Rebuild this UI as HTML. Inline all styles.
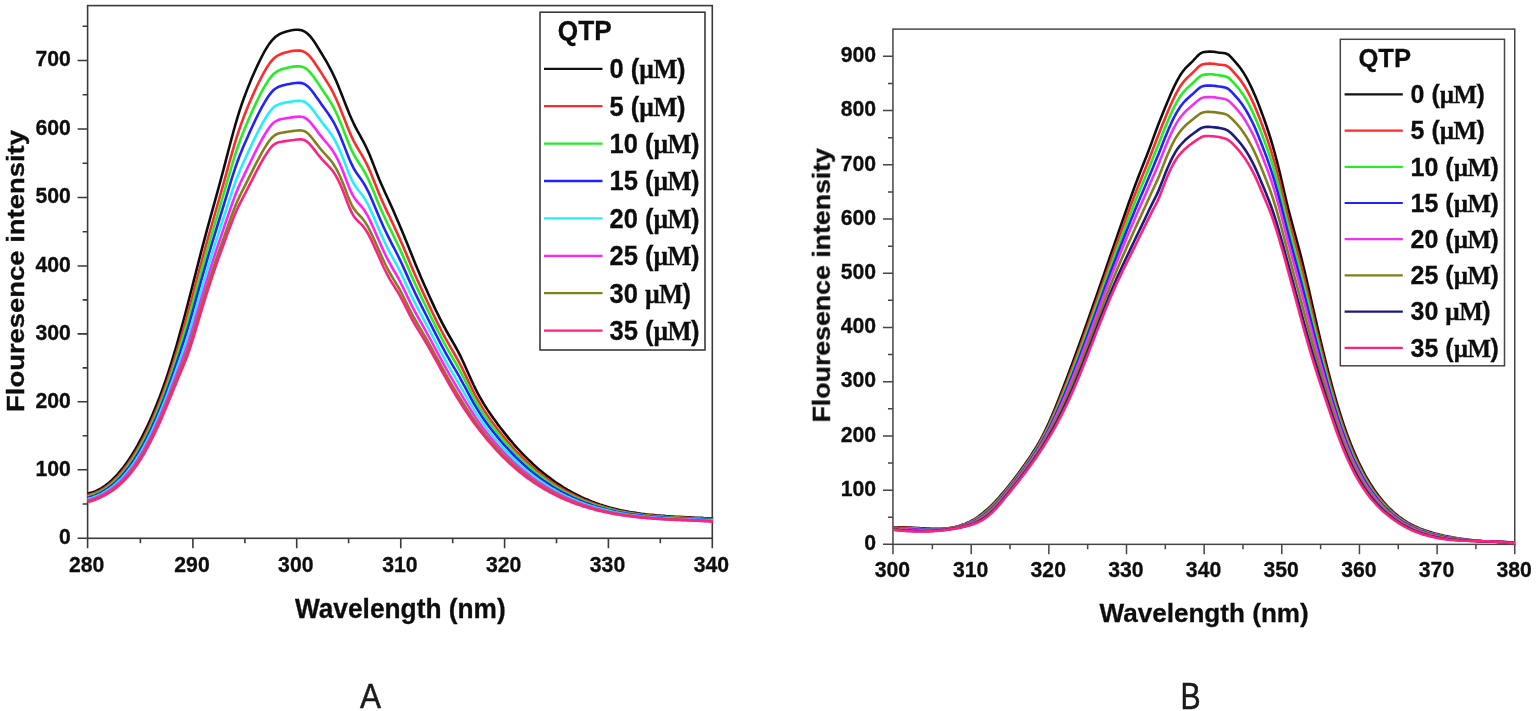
<!DOCTYPE html>
<html lang="en">
<head>
<meta charset="utf-8">
<title>Fluorescence spectra</title>
<style>
html,body{margin:0;padding:0;background:#ffffff;}
body{width:1537px;height:711px;overflow:hidden;}
svg{display:block;}
svg text{filter:url(#soft);}
svg .crv{filter:url(#softc);}
</style>
</head>
<body>
<svg width="1537" height="711" viewBox="0 0 1537 711">
<defs>
<filter id="soft" x="-5%" y="-20%" width="110%" height="140%"><feGaussianBlur stdDeviation="0.55"/></filter>
<filter id="softc" filterUnits="userSpaceOnUse" x="0" y="0" width="1537" height="711"><feGaussianBlur stdDeviation="0.5"/></filter>
</defs>
<rect width="1537" height="711" fill="#ffffff"/>
<g id="panel-A">
<rect x="87.6" y="5.6" width="624.70" height="532.70" fill="none" stroke="#3a3a3a" stroke-width="1.6"/>
<path d="M87.60 538.3v10M140.40 538.3v5M192.90 538.3v10M244.90 538.3v5M296.70 538.3v10M348.60 538.3v5M400.75 538.3v10M452.70 538.3v5M504.60 538.3v10M556.50 538.3v5M608.40 538.3v10M660.30 538.3v5M712.30 538.3v10M87.6 538.30h-10M87.6 504.05h-5M87.6 469.80h-10M87.6 435.80h-5M87.6 401.80h-10M87.6 367.85h-5M87.6 333.90h-10M87.6 299.92h-5M87.6 265.95h-10M87.6 231.72h-5M87.6 197.50h-10M87.6 163.25h-5M87.6 129.00h-10M87.6 94.75h-5M87.6 60.50h-10M87.6 26.25h-5" stroke="#3a3a3a" stroke-width="1.6" fill="none"/>
<clipPath id="clipA"><rect x="87.1" y="5.6" width="626.20" height="534.70"/></clipPath>
<g clip-path="url(#clipA)" fill="none" stroke-width="2.6" stroke-linejoin="round" class="crv">
<path d="M87.6 493.4L89.6 493.0L91.6 492.5L93.6 491.9L95.6 491.1L97.6 490.2L99.6 489.2L101.6 488.0L103.6 486.7L105.6 485.3L107.6 483.8L109.6 482.2L111.6 480.4L113.6 478.5L115.6 476.4L117.6 474.3L119.6 471.9L121.6 469.5L123.6 467.0L125.6 464.3L127.6 461.4L129.6 458.5L131.6 455.4L133.6 452.1L135.6 448.8L137.6 445.3L139.6 441.6L141.6 437.8L143.6 433.9L145.6 429.9L147.6 425.7L149.6 421.3L151.6 416.8L153.6 412.1L155.6 407.3L157.6 402.3L159.6 397.1L161.6 391.8L163.6 386.2L165.6 380.5L167.6 374.6L169.6 368.4L171.6 362.1L173.6 355.5L175.6 348.8L177.6 341.8L179.6 334.7L181.6 327.4L183.6 320.0L185.6 312.5L187.6 304.8L189.6 297.1L191.6 289.3L193.6 281.4L195.6 273.6L197.6 265.7L199.6 257.9L201.6 250.2L203.6 242.6L205.6 235.1L207.6 227.7L209.6 220.4L211.6 213.1L213.6 205.9L215.6 198.6L217.6 191.4L219.6 184.0L221.6 176.6L223.6 169.1L225.6 161.4L227.6 153.7L229.6 146.0L231.6 138.4L233.6 131.0L235.6 123.9L237.6 117.1L239.6 110.7L241.6 104.7L243.6 99.0L245.6 93.6L247.6 88.4L249.6 83.4L251.6 78.6L253.6 74.0L255.6 69.5L257.6 65.1L259.6 61.0L261.6 57.0L263.6 53.2L265.6 49.7L267.6 46.4L269.6 43.4L271.6 40.9L273.6 38.7L275.6 36.8L277.6 35.4L279.6 34.2L281.6 33.2L283.6 32.4L285.6 31.8L287.6 31.2L289.6 30.7L291.6 30.3L293.6 30.0L295.6 29.8L297.6 29.8L299.6 29.9L301.6 30.3L303.6 31.1L305.6 32.2L307.6 33.8L309.6 35.7L311.6 38.1L313.6 40.8L315.6 43.8L317.6 47.0L319.6 50.2L321.6 53.5L323.6 56.9L325.6 60.2L327.6 63.7L329.6 67.3L331.6 71.1L333.6 75.2L335.6 79.6L337.6 84.3L339.6 89.2L341.6 94.2L343.6 99.4L345.6 104.5L347.6 109.5L349.6 114.4L351.6 119.0L353.6 123.3L355.6 127.3L357.6 131.1L359.6 134.7L361.6 138.3L363.6 142.0L365.6 146.0L367.6 150.2L369.6 154.8L371.6 159.8L373.6 164.9L375.6 170.1L377.6 175.3L379.6 180.2L381.6 184.8L383.6 189.3L385.6 193.7L387.6 198.0L389.6 202.4L391.6 206.8L393.6 211.3L395.6 215.9L397.6 220.5L399.6 225.2L401.6 230.0L403.6 234.8L405.6 239.7L407.6 244.6L409.6 249.6L411.6 254.6L413.6 259.6L415.6 264.5L417.6 269.3L419.6 274.1L421.6 278.7L423.6 283.3L425.6 287.8L427.6 292.3L429.6 296.7L431.6 301.1L433.6 305.4L435.6 309.7L437.6 313.8L439.6 317.9L441.6 321.8L443.6 325.7L445.6 329.4L447.6 333.0L449.6 336.5L451.6 340.0L453.6 343.4L455.6 347.0L457.6 350.6L459.6 354.4L461.6 358.5L463.6 362.8L465.6 367.2L467.6 371.7L469.6 376.2L471.6 380.6L473.6 385.0L475.6 389.1L477.6 393.0L479.6 396.7L481.6 400.2L483.6 403.6L485.6 406.8L487.6 409.9L489.6 412.8L491.6 415.7L493.6 418.6L495.6 421.3L497.6 424.1L499.6 426.7L501.6 429.3L503.6 431.9L505.6 434.4L507.6 436.9L509.6 439.3L511.6 441.7L513.6 444.0L515.6 446.3L517.6 448.5L519.6 450.7L521.6 452.8L523.6 454.9L525.6 456.9L527.6 458.9L529.6 460.8L531.6 462.7L533.6 464.6L535.6 466.4L537.6 468.2L539.6 469.9L541.6 471.6L543.6 473.2L545.6 474.8L547.6 476.4L549.6 477.9L551.6 479.4L553.6 480.8L555.6 482.2L557.6 483.6L559.6 484.9L561.6 486.2L563.6 487.5L565.6 488.7L567.6 489.9L569.6 491.0L571.6 492.1L573.6 493.2L575.6 494.2L577.6 495.3L579.6 496.2L581.6 497.2L583.6 498.1L585.6 499.0L587.6 499.8L589.6 500.7L591.6 501.5L593.6 502.2L595.6 503.0L597.6 503.7L599.6 504.4L601.6 505.0L603.6 505.7L605.6 506.3L607.6 506.9L609.6 507.5L611.6 508.0L613.6 508.5L615.6 509.0L617.6 509.5L619.6 510.0L621.6 510.4L623.6 510.8L625.6 511.2L627.6 511.6L629.6 512.0L631.6 512.3L633.6 512.6L635.6 512.9L637.6 513.2L639.6 513.5L641.6 513.8L643.6 514.0L645.6 514.3L647.6 514.5L649.6 514.7L651.6 514.9L653.6 515.1L655.6 515.3L657.6 515.5L659.6 515.6L661.6 515.8L663.6 515.9L665.6 516.1L667.6 516.2L669.6 516.3L671.6 516.5L673.6 516.6L675.6 516.7L677.6 516.8L679.6 516.9L681.6 517.0L683.6 517.1L685.6 517.2L687.6 517.3L689.6 517.4L691.6 517.5L693.6 517.6L695.6 517.7L697.6 517.7L699.6 517.8L701.6 517.9L703.6 518.1L705.6 518.2L707.6 518.3L709.6 518.4L711.6 518.5L713.6 518.5" stroke="#111111"/>
<path d="M87.6 495.0L89.6 494.6L91.6 494.1L93.6 493.4L95.6 492.7L97.6 491.8L99.6 490.8L101.6 489.7L103.6 488.5L105.6 487.1L107.6 485.7L109.6 484.1L111.6 482.4L113.6 480.6L115.6 478.6L117.6 476.6L119.6 474.4L121.6 472.1L123.6 469.6L125.6 467.0L127.6 464.3L129.6 461.5L131.6 458.5L133.6 455.4L135.6 452.2L137.6 448.8L139.6 445.3L141.6 441.6L143.6 437.8L145.6 433.8L147.6 429.7L149.6 425.5L151.6 421.1L153.6 416.6L155.6 411.8L157.6 407.0L159.6 401.9L161.6 396.7L163.6 391.4L165.6 385.8L167.6 380.1L169.6 374.2L171.6 368.2L173.6 361.9L175.6 355.5L177.6 348.9L179.6 342.3L181.6 335.5L183.6 328.5L185.6 321.5L187.6 314.3L189.6 307.0L191.6 299.5L193.6 291.9L195.6 284.2L197.6 276.6L199.6 269.0L201.6 261.5L203.6 254.1L205.6 246.8L207.6 239.6L209.6 232.5L211.6 225.5L213.6 218.5L215.6 211.5L217.6 204.5L219.6 197.5L221.6 190.4L223.6 183.3L225.6 176.1L227.6 168.8L229.6 161.5L231.6 154.3L233.6 147.3L235.6 140.7L237.6 134.4L239.6 128.4L241.6 122.7L243.6 117.4L245.6 112.3L247.6 107.3L249.6 102.6L251.6 97.9L253.6 93.4L255.6 89.0L257.6 84.8L259.6 80.7L261.6 76.8L263.6 73.1L265.6 69.6L267.6 66.4L269.6 63.4L271.6 60.9L273.6 58.7L275.6 57.0L277.6 55.6L279.6 54.6L281.6 53.7L283.6 53.0L285.6 52.4L287.6 51.9L289.6 51.5L291.6 51.1L293.6 50.8L295.6 50.6L297.6 50.5L299.6 50.6L301.6 50.9L303.6 51.6L305.6 52.7L307.6 54.2L309.6 56.2L311.6 58.6L313.6 61.3L315.6 64.2L317.6 67.2L319.6 70.3L321.6 73.4L323.6 76.6L325.6 79.7L327.6 82.9L329.6 86.2L331.6 89.7L333.6 93.6L335.6 97.7L337.6 102.2L339.6 106.9L341.6 111.9L343.6 117.0L345.6 122.1L347.6 127.2L349.6 132.1L351.6 136.6L353.6 140.8L355.6 144.5L357.6 148.0L359.6 151.3L361.6 154.6L363.6 158.1L365.6 161.8L367.6 165.9L369.6 170.3L371.6 175.1L373.6 180.1L375.6 185.1L377.6 190.1L379.6 194.9L381.6 199.6L383.6 204.0L385.6 208.4L387.6 212.6L389.6 216.8L391.6 221.1L393.6 225.3L395.6 229.6L397.6 234.0L399.6 238.4L401.6 243.0L403.6 247.6L405.6 252.3L407.6 257.1L409.6 261.9L411.6 266.7L413.6 271.4L415.6 276.0L417.6 280.6L419.6 285.0L421.6 289.4L423.6 293.7L425.6 298.1L427.6 302.3L429.6 306.6L431.6 310.8L433.6 315.0L435.6 319.1L437.6 323.2L439.6 327.1L441.6 331.0L443.6 334.8L445.6 338.5L447.6 342.1L449.6 345.6L451.6 349.1L453.6 352.5L455.6 356.0L457.6 359.6L459.6 363.3L461.6 367.2L463.6 371.3L465.6 375.4L467.6 379.6L469.6 383.8L471.6 388.0L473.6 392.0L475.6 395.9L477.6 399.5L479.6 403.0L481.6 406.4L483.6 409.6L485.6 412.6L487.6 415.6L489.6 418.4L491.6 421.2L493.6 423.9L495.6 426.6L497.6 429.2L499.6 431.8L501.6 434.3L503.6 436.7L505.6 439.2L507.6 441.5L509.6 443.8L511.6 446.1L513.6 448.3L515.6 450.5L517.6 452.6L519.6 454.7L521.6 456.7L523.6 458.7L525.6 460.6L527.6 462.5L529.6 464.4L531.6 466.2L533.6 468.0L535.6 469.7L537.6 471.4L539.6 473.0L541.6 474.6L543.6 476.1L545.6 477.7L547.6 479.1L549.6 480.6L551.6 482.0L553.6 483.4L555.6 484.7L557.6 486.0L559.6 487.2L561.6 488.4L563.6 489.6L565.6 490.8L567.6 491.9L569.6 493.0L571.6 494.0L573.6 495.0L575.6 496.0L577.6 497.0L579.6 497.9L581.6 498.8L583.6 499.7L585.6 500.5L587.6 501.3L589.6 502.1L591.6 502.8L593.6 503.6L595.6 504.3L597.6 505.0L599.6 505.6L601.6 506.2L603.6 506.8L605.6 507.4L607.6 508.0L609.6 508.5L611.6 509.0L613.6 509.5L615.6 510.0L617.6 510.4L619.6 510.9L621.6 511.3L623.6 511.7L625.6 512.1L627.6 512.4L629.6 512.8L631.6 513.1L633.6 513.4L635.6 513.7L637.6 514.0L639.6 514.3L641.6 514.5L643.6 514.8L645.6 515.0L647.6 515.2L649.6 515.4L651.6 515.6L653.6 515.8L655.6 516.0L657.6 516.1L659.6 516.3L661.6 516.4L663.6 516.6L665.6 516.7L667.6 516.8L669.6 517.0L671.6 517.1L673.6 517.2L675.6 517.3L677.6 517.4L679.6 517.5L681.6 517.6L683.6 517.7L685.6 517.8L687.6 517.9L689.6 518.0L691.6 518.0L693.6 518.1L695.6 518.2L697.6 518.3L699.6 518.4L701.6 518.5L703.6 518.6L705.6 518.7L707.6 518.8L709.6 518.9L711.6 519.1L713.6 519.1" stroke="#ff2a2a"/>
<path d="M87.6 496.3L89.6 495.9L91.6 495.3L93.6 494.6L95.6 493.9L97.6 493.0L99.6 492.1L101.6 491.0L103.6 489.8L105.6 488.5L107.6 487.1L109.6 485.6L111.6 484.0L113.6 482.2L115.6 480.3L117.6 478.4L119.6 476.3L121.6 474.0L123.6 471.7L125.6 469.2L127.6 466.6L129.6 463.8L131.6 460.9L133.6 457.9L135.6 454.8L137.6 451.5L139.6 448.0L141.6 444.4L143.6 440.7L145.6 436.9L147.6 432.8L149.6 428.7L151.6 424.4L153.6 419.9L155.6 415.3L157.6 410.5L159.6 405.6L161.6 400.5L163.6 395.3L165.6 389.9L167.6 384.3L169.6 378.6L171.6 372.8L173.6 366.8L175.6 360.6L177.6 354.4L179.6 348.0L181.6 341.6L183.6 335.1L185.6 328.4L187.6 321.6L189.6 314.5L191.6 307.2L193.6 299.9L195.6 292.4L197.6 284.9L199.6 277.5L201.6 270.1L203.6 262.9L205.6 255.7L207.6 248.7L209.6 241.7L211.6 234.9L213.6 228.0L215.6 221.3L217.6 214.5L219.6 207.8L221.6 201.0L223.6 194.1L225.6 187.2L227.6 180.2L229.6 173.3L231.6 166.5L233.6 159.8L235.6 153.5L237.6 147.5L239.6 141.8L241.6 136.5L243.6 131.4L245.6 126.5L247.6 121.8L249.6 117.1L251.6 112.6L253.6 108.2L255.6 103.9L257.6 99.8L259.6 95.7L261.6 91.9L263.6 88.2L265.6 84.8L267.6 81.6L269.6 78.6L271.6 76.1L273.6 74.0L275.6 72.4L277.6 71.1L279.6 70.1L281.6 69.3L283.6 68.7L285.6 68.2L287.6 67.7L289.6 67.3L291.6 66.9L293.6 66.6L295.6 66.4L297.6 66.3L299.6 66.4L301.6 66.7L303.6 67.3L305.6 68.3L307.6 69.8L309.6 71.8L311.6 74.2L313.6 76.8L315.6 79.7L317.6 82.6L319.6 85.6L321.6 88.6L323.6 91.6L325.6 94.5L327.6 97.5L329.6 100.6L331.6 103.9L333.6 107.5L335.6 111.5L337.6 115.8L339.6 120.4L341.6 125.3L343.6 130.4L345.6 135.5L347.6 140.7L349.6 145.6L351.6 150.1L353.6 154.1L355.6 157.7L357.6 160.9L359.6 164.0L361.6 167.1L363.6 170.3L365.6 173.8L367.6 177.8L369.6 182.1L371.6 186.7L373.6 191.6L375.6 196.5L377.6 201.4L379.6 206.2L381.6 210.8L383.6 215.3L385.6 219.5L387.6 223.7L389.6 227.8L391.6 231.9L393.6 236.0L395.6 240.1L397.6 244.2L399.6 248.5L401.6 252.9L403.6 257.4L405.6 262.0L407.6 266.6L409.6 271.3L411.6 275.9L413.6 280.4L415.6 284.8L417.6 289.1L419.6 293.4L421.6 297.6L423.6 301.7L425.6 305.8L427.6 310.0L429.6 314.1L431.6 318.2L433.6 322.3L435.6 326.3L437.6 330.3L439.6 334.2L441.6 338.0L443.6 341.8L445.6 345.5L447.6 349.1L449.6 352.6L451.6 356.0L453.6 359.5L455.6 362.9L457.6 366.5L459.6 370.1L461.6 373.8L463.6 377.7L465.6 381.7L467.6 385.7L469.6 389.6L471.6 393.5L473.6 397.3L475.6 401.0L477.6 404.5L479.6 407.9L481.6 411.1L483.6 414.1L485.6 417.1L487.6 419.9L489.6 422.7L491.6 425.4L493.6 428.0L495.6 430.6L497.6 433.1L499.6 435.6L501.6 438.0L503.6 440.4L505.6 442.8L507.6 445.0L509.6 447.3L511.6 449.5L513.6 451.6L515.6 453.7L517.6 455.7L519.6 457.7L521.6 459.7L523.6 461.6L525.6 463.5L527.6 465.3L529.6 467.1L531.6 468.8L533.6 470.5L535.6 472.2L537.6 473.8L539.6 475.3L541.6 476.9L543.6 478.4L545.6 479.8L547.6 481.2L549.6 482.6L551.6 484.0L553.6 485.3L555.6 486.5L557.6 487.8L559.6 489.0L561.6 490.1L563.6 491.3L565.6 492.4L567.6 493.4L569.6 494.5L571.6 495.5L573.6 496.4L575.6 497.4L577.6 498.3L579.6 499.2L581.6 500.0L583.6 500.9L585.6 501.7L587.6 502.4L589.6 503.2L591.6 503.9L593.6 504.6L595.6 505.3L597.6 505.9L599.6 506.5L601.6 507.1L603.6 507.7L605.6 508.3L607.6 508.8L609.6 509.3L611.6 509.8L613.6 510.3L615.6 510.7L617.6 511.2L619.6 511.6L621.6 512.0L623.6 512.4L625.6 512.7L627.6 513.1L629.6 513.4L631.6 513.7L633.6 514.0L635.6 514.3L637.6 514.6L639.6 514.8L641.6 515.1L643.6 515.3L645.6 515.5L647.6 515.7L649.6 515.9L651.6 516.1L653.6 516.3L655.6 516.5L657.6 516.6L659.6 516.8L661.6 516.9L663.6 517.0L665.6 517.2L667.6 517.3L669.6 517.4L671.6 517.5L673.6 517.6L675.6 517.7L677.6 517.8L679.6 517.9L681.6 518.0L683.6 518.1L685.6 518.2L687.6 518.3L689.6 518.4L691.6 518.5L693.6 518.6L695.6 518.7L697.6 518.8L699.6 518.9L701.6 519.0L703.6 519.1L705.6 519.2L707.6 519.3L709.6 519.4L711.6 519.5L713.6 519.5" stroke="#22ee22"/>
<path d="M87.6 497.6L89.6 497.2L91.6 496.6L93.6 495.9L95.6 495.2L97.6 494.3L99.6 493.4L101.6 492.3L103.6 491.2L105.6 489.9L107.6 488.6L109.6 487.1L111.6 485.6L113.6 483.9L115.6 482.1L117.6 480.2L119.6 478.2L121.6 476.1L123.6 473.8L125.6 471.4L127.6 468.9L129.6 466.2L131.6 463.4L133.6 460.5L135.6 457.5L137.6 454.3L139.6 450.9L141.6 447.4L143.6 443.8L145.6 440.0L147.6 436.1L149.6 432.0L151.6 427.8L153.6 423.4L155.6 418.9L157.6 414.2L159.6 409.4L161.6 404.5L163.6 399.4L165.6 394.2L167.6 388.8L169.6 383.3L171.6 377.6L173.6 371.9L175.6 366.0L177.6 360.1L179.6 354.1L181.6 348.0L183.6 341.9L185.6 335.6L187.6 329.1L189.6 322.4L191.6 315.4L193.6 308.2L195.6 300.9L197.6 293.6L199.6 286.3L201.6 279.1L203.6 272.1L205.6 265.1L207.6 258.2L209.6 251.4L211.6 244.7L213.6 238.1L215.6 231.5L217.6 225.0L219.6 218.5L221.6 212.0L223.6 205.5L225.6 198.9L227.6 192.3L229.6 185.7L231.6 179.2L233.6 172.9L235.6 166.9L237.6 161.2L239.6 155.9L241.6 150.9L243.6 146.1L245.6 141.5L247.6 136.9L249.6 132.4L251.6 128.0L253.6 123.7L255.6 119.5L257.6 115.4L259.6 111.5L261.6 107.7L263.6 104.1L265.6 100.7L267.6 97.5L269.6 94.6L271.6 92.1L273.6 90.0L275.6 88.5L277.6 87.3L279.6 86.4L281.6 85.7L283.6 85.2L285.6 84.7L287.6 84.3L289.6 83.9L291.6 83.5L293.6 83.2L295.6 83.0L297.6 82.9L299.6 82.9L301.6 83.1L303.6 83.7L305.6 84.7L307.6 86.2L309.6 88.2L311.6 90.5L313.6 93.1L315.6 95.9L317.6 98.8L319.6 101.6L321.6 104.5L323.6 107.3L325.6 110.0L327.6 112.8L329.6 115.7L331.6 118.8L333.6 122.2L335.6 126.0L337.6 130.1L339.6 134.6L341.6 139.4L343.6 144.4L345.6 149.6L347.6 154.8L349.6 159.7L351.6 164.2L353.6 168.1L355.6 171.5L357.6 174.5L359.6 177.3L361.6 180.1L363.6 183.1L365.6 186.5L367.6 190.3L369.6 194.4L371.6 199.0L373.6 203.7L375.6 208.5L377.6 213.3L379.6 218.0L381.6 222.6L383.6 227.0L385.6 231.3L387.6 235.4L389.6 239.4L391.6 243.3L393.6 247.1L395.6 251.0L397.6 255.0L399.6 259.1L401.6 263.3L403.6 267.6L405.6 272.1L407.6 276.6L409.6 281.1L411.6 285.5L413.6 289.8L415.6 294.0L417.6 298.1L419.6 302.1L421.6 306.1L423.6 310.1L425.6 314.0L427.6 318.0L429.6 322.0L431.6 325.9L433.6 329.9L435.6 333.8L437.6 337.7L439.6 341.6L441.6 345.4L443.6 349.1L445.6 352.8L447.6 356.4L449.6 359.9L451.6 363.3L453.6 366.8L455.6 370.2L457.6 373.7L459.6 377.2L461.6 380.8L463.6 384.5L465.6 388.2L467.6 392.0L469.6 395.7L471.6 399.4L473.6 403.0L475.6 406.4L477.6 409.7L479.6 412.9L481.6 416.0L483.6 418.9L485.6 421.7L487.6 424.5L489.6 427.2L491.6 429.8L493.6 432.3L495.6 434.8L497.6 437.3L499.6 439.7L501.6 442.0L503.6 444.3L505.6 446.5L507.6 448.7L509.6 450.9L511.6 453.0L513.6 455.0L515.6 457.1L517.6 459.0L519.6 460.9L521.6 462.8L523.6 464.6L525.6 466.4L527.6 468.2L529.6 469.9L531.6 471.6L533.6 473.2L535.6 474.8L537.6 476.3L539.6 477.8L541.6 479.3L543.6 480.7L545.6 482.1L547.6 483.4L549.6 484.7L551.6 486.0L553.6 487.3L555.6 488.5L557.6 489.7L559.6 490.8L561.6 491.9L563.6 493.0L565.6 494.0L567.6 495.0L569.6 496.0L571.6 497.0L573.6 497.9L575.6 498.8L577.6 499.7L579.6 500.5L581.6 501.3L583.6 502.1L585.6 502.9L587.6 503.6L589.6 504.3L591.6 505.0L593.6 505.7L595.6 506.3L597.6 506.9L599.6 507.5L601.6 508.1L603.6 508.6L605.6 509.2L607.6 509.7L609.6 510.2L611.6 510.6L613.6 511.1L615.6 511.5L617.6 511.9L619.6 512.3L621.6 512.7L623.6 513.1L625.6 513.4L627.6 513.7L629.6 514.0L631.6 514.3L633.6 514.6L635.6 514.9L637.6 515.2L639.6 515.4L641.6 515.6L643.6 515.9L645.6 516.1L647.6 516.3L649.6 516.5L651.6 516.6L653.6 516.8L655.6 517.0L657.6 517.1L659.6 517.3L661.6 517.4L663.6 517.5L665.6 517.7L667.6 517.8L669.6 517.9L671.6 518.0L673.6 518.1L675.6 518.2L677.6 518.3L679.6 518.4L681.6 518.5L683.6 518.6L685.6 518.7L687.6 518.8L689.6 518.9L691.6 518.9L693.6 519.0L695.6 519.1L697.6 519.2L699.6 519.3L701.6 519.4L703.6 519.5L705.6 519.6L707.6 519.7L709.6 519.8L711.6 519.9L713.6 520.0" stroke="#2222ff"/>
<path d="M87.6 499.0L89.6 498.6L91.6 498.0L93.6 497.3L95.6 496.5L97.6 495.7L99.6 494.8L101.6 493.8L103.6 492.7L105.6 491.5L107.6 490.2L109.6 488.8L111.6 487.4L113.6 485.8L115.6 484.1L117.6 482.2L119.6 480.3L121.6 478.3L123.6 476.1L125.6 473.8L127.6 471.4L129.6 468.9L131.6 466.2L133.6 463.4L135.6 460.4L137.6 457.3L139.6 454.1L141.6 450.7L143.6 447.1L145.6 443.5L147.6 439.6L149.6 435.6L151.6 431.5L153.6 427.2L155.6 422.8L157.6 418.3L159.6 413.6L161.6 408.8L163.6 403.9L165.6 398.8L167.6 393.6L169.6 388.3L171.6 382.9L173.6 377.4L175.6 371.8L177.6 366.2L179.6 360.6L181.6 355.0L183.6 349.3L185.6 343.5L187.6 337.4L189.6 331.0L191.6 324.2L193.6 317.3L195.6 310.2L197.6 303.1L199.6 295.9L201.6 288.9L203.6 282.0L205.6 275.2L207.6 268.5L209.6 261.9L211.6 255.4L213.6 249.0L215.6 242.7L217.6 236.4L219.6 230.2L221.6 224.0L223.6 217.8L225.6 211.6L227.6 205.4L229.6 199.1L231.6 193.0L233.6 187.1L235.6 181.5L237.6 176.2L239.6 171.2L241.6 166.5L243.6 162.0L245.6 157.7L247.6 153.4L249.6 149.1L251.6 144.8L253.6 140.6L255.6 136.5L257.6 132.5L259.6 128.6L261.6 124.9L263.6 121.3L265.6 118.0L267.6 114.8L269.6 111.9L271.6 109.5L273.6 107.4L275.6 105.9L277.6 104.9L279.6 104.1L281.6 103.5L283.6 103.0L285.6 102.6L287.6 102.2L289.6 101.9L291.6 101.5L293.6 101.3L295.6 101.0L297.6 100.9L299.6 100.9L301.6 101.0L303.6 101.5L305.6 102.5L307.6 104.0L309.6 105.9L311.6 108.2L313.6 110.8L315.6 113.6L317.6 116.3L319.6 119.1L321.6 121.7L323.6 124.4L325.6 126.9L327.6 129.4L329.6 132.1L331.6 134.9L333.6 138.1L335.6 141.7L337.6 145.7L339.6 150.0L341.6 154.7L343.6 159.7L345.6 164.9L347.6 170.1L349.6 175.1L351.6 179.5L353.6 183.3L355.6 186.5L357.6 189.2L359.6 191.7L361.6 194.3L363.6 197.1L365.6 200.2L367.6 203.8L369.6 207.9L371.6 212.2L373.6 216.8L375.6 221.5L377.6 226.2L379.6 230.8L381.6 235.4L383.6 239.8L385.6 244.0L387.6 248.1L389.6 251.9L391.6 255.6L393.6 259.3L395.6 262.9L397.6 266.7L399.6 270.5L401.6 274.6L403.6 278.8L405.6 283.1L407.6 287.4L409.6 291.8L411.6 296.0L413.6 300.1L415.6 304.0L417.6 307.9L419.6 311.7L421.6 315.4L423.6 319.1L425.6 322.9L427.6 326.7L429.6 330.5L431.6 334.4L433.6 338.2L435.6 342.0L437.6 345.8L439.6 349.6L441.6 353.4L443.6 357.1L445.6 360.7L447.6 364.3L449.6 367.8L451.6 371.3L453.6 374.7L455.6 378.1L457.6 381.5L459.6 384.9L461.6 388.4L463.6 391.9L465.6 395.4L467.6 398.9L469.6 402.3L471.6 405.7L473.6 409.1L475.6 412.3L477.6 415.4L479.6 418.4L481.6 421.3L483.6 424.1L485.6 426.8L487.6 429.5L489.6 432.0L491.6 434.5L493.6 437.0L495.6 439.4L497.6 441.7L499.6 444.0L501.6 446.3L503.6 448.5L505.6 450.6L507.6 452.7L509.6 454.8L511.6 456.8L513.6 458.8L515.6 460.7L517.6 462.6L519.6 464.4L521.6 466.2L523.6 468.0L525.6 469.7L527.6 471.3L529.6 473.0L531.6 474.5L533.6 476.1L535.6 477.6L537.6 479.0L539.6 480.5L541.6 481.9L543.6 483.2L545.6 484.5L547.6 485.8L549.6 487.1L551.6 488.3L553.6 489.4L555.6 490.6L557.6 491.7L559.6 492.8L561.6 493.8L563.6 494.8L565.6 495.8L567.6 496.8L569.6 497.7L571.6 498.6L573.6 499.5L575.6 500.3L577.6 501.2L579.6 502.0L581.6 502.7L583.6 503.5L585.6 504.2L587.6 504.9L589.6 505.6L591.6 506.2L593.6 506.8L595.6 507.4L597.6 508.0L599.6 508.6L601.6 509.1L603.6 509.6L605.6 510.1L607.6 510.6L609.6 511.1L611.6 511.5L613.6 511.9L615.6 512.4L617.6 512.7L619.6 513.1L621.6 513.5L623.6 513.8L625.6 514.1L627.6 514.5L629.6 514.8L631.6 515.0L633.6 515.3L635.6 515.6L637.6 515.8L639.6 516.0L641.6 516.3L643.6 516.5L645.6 516.7L647.6 516.9L649.6 517.1L651.6 517.2L653.6 517.4L655.6 517.5L657.6 517.7L659.6 517.8L661.6 518.0L663.6 518.1L665.6 518.2L667.6 518.3L669.6 518.4L671.6 518.5L673.6 518.6L675.6 518.7L677.6 518.8L679.6 518.9L681.6 519.0L683.6 519.1L685.6 519.2L687.6 519.3L689.6 519.4L691.6 519.5L693.6 519.5L695.6 519.6L697.6 519.7L699.6 519.8L701.6 519.9L703.6 520.0L705.6 520.1L707.6 520.2L709.6 520.3L711.6 520.4L713.6 520.4" stroke="#22eeff"/>
<path d="M87.6 500.2L89.6 499.8L91.6 499.2L93.6 498.5L95.6 497.8L97.6 496.9L99.6 496.0L101.6 495.1L103.6 494.0L105.6 492.9L107.6 491.6L109.6 490.3L111.6 488.9L113.6 487.4L115.6 485.8L117.6 484.0L119.6 482.2L121.6 480.2L123.6 478.1L125.6 475.9L127.6 473.6L129.6 471.2L131.6 468.6L133.6 465.9L135.6 463.0L137.6 460.0L139.6 456.8L141.6 453.5L143.6 450.1L145.6 446.5L147.6 442.7L149.6 438.8L151.6 434.8L153.6 430.6L155.6 426.3L157.6 421.8L159.6 417.3L161.6 412.6L163.6 407.8L165.6 402.9L167.6 397.9L169.6 392.7L171.6 387.5L173.6 382.3L175.6 377.0L177.6 371.7L179.6 366.4L181.6 361.1L183.6 355.8L185.6 350.4L187.6 344.6L189.6 338.5L191.6 332.0L193.6 325.3L195.6 318.3L197.6 311.3L199.6 304.4L201.6 297.5L203.6 290.8L205.6 284.1L207.6 277.6L209.6 271.1L211.6 264.8L213.6 258.6L215.6 252.5L217.6 246.4L219.6 240.5L221.6 234.6L223.6 228.7L225.6 222.7L227.6 216.8L229.6 211.0L231.6 205.2L233.6 199.6L235.6 194.3L237.6 189.3L239.6 184.7L241.6 180.3L243.6 176.1L245.6 171.9L247.6 167.8L249.6 163.7L251.6 159.5L253.6 155.4L255.6 151.4L257.6 147.5L259.6 143.7L261.6 140.0L263.6 136.5L265.6 133.2L267.6 130.0L269.6 127.2L271.6 124.7L273.6 122.7L275.6 121.3L277.6 120.3L279.6 119.6L281.6 119.1L283.6 118.7L285.6 118.3L287.6 118.0L289.6 117.7L291.6 117.4L293.6 117.1L295.6 116.9L297.6 116.7L299.6 116.6L301.6 116.7L303.6 117.2L305.6 118.1L307.6 119.6L309.6 121.5L311.6 123.8L313.6 126.4L315.6 129.1L317.6 131.7L319.6 134.4L321.6 136.9L323.6 139.4L325.6 141.7L327.6 144.0L329.6 146.5L331.6 149.1L333.6 152.1L335.6 155.5L337.6 159.3L339.6 163.5L341.6 168.1L343.6 173.1L345.6 178.3L347.6 183.6L349.6 188.6L351.6 193.0L353.6 196.6L355.6 199.6L357.6 202.1L359.6 204.4L361.6 206.7L363.6 209.3L365.6 212.3L367.6 215.7L369.6 219.6L371.6 223.9L373.6 228.3L375.6 232.9L377.6 237.5L379.6 242.1L381.6 246.6L383.6 251.0L385.6 255.2L387.6 259.2L389.6 262.9L391.6 266.5L393.6 270.0L395.6 273.4L397.6 276.9L399.6 280.6L401.6 284.5L403.6 288.6L405.6 292.7L407.6 297.0L409.6 301.1L411.6 305.2L413.6 309.1L415.6 312.8L417.6 316.5L419.6 320.0L421.6 323.5L423.6 327.1L425.6 330.7L427.6 334.3L429.6 338.0L431.6 341.7L433.6 345.5L435.6 349.2L437.6 352.9L439.6 356.7L441.6 360.4L443.6 364.0L445.6 367.7L447.6 371.2L449.6 374.8L451.6 378.2L453.6 381.6L455.6 385.0L457.6 388.3L459.6 391.7L461.6 395.0L463.6 398.3L465.6 401.6L467.6 404.9L469.6 408.1L471.6 411.3L473.6 414.4L475.6 417.4L477.6 420.4L479.6 423.2L481.6 426.0L483.6 428.7L485.6 431.3L487.6 433.8L489.6 436.3L491.6 438.7L493.6 441.1L495.6 443.4L497.6 445.7L499.6 447.9L501.6 450.0L503.6 452.2L505.6 454.2L507.6 456.3L509.6 458.2L511.6 460.2L513.6 462.1L515.6 463.9L517.6 465.7L519.6 467.5L521.6 469.2L523.6 470.9L525.6 472.5L527.6 474.1L529.6 475.6L531.6 477.2L533.6 478.6L535.6 480.1L537.6 481.5L539.6 482.8L541.6 484.1L543.6 485.4L545.6 486.7L547.6 487.9L549.6 489.1L551.6 490.2L553.6 491.4L555.6 492.4L557.6 493.5L559.6 494.5L561.6 495.5L563.6 496.5L565.6 497.4L567.6 498.3L569.6 499.2L571.6 500.1L573.6 500.9L575.6 501.7L577.6 502.5L579.6 503.2L581.6 504.0L583.6 504.7L585.6 505.3L587.6 506.0L589.6 506.6L591.6 507.3L593.6 507.9L595.6 508.4L597.6 509.0L599.6 509.5L601.6 510.0L603.6 510.5L605.6 511.0L607.6 511.4L609.6 511.9L611.6 512.3L613.6 512.7L615.6 513.1L617.6 513.5L619.6 513.8L621.6 514.2L623.6 514.5L625.6 514.8L627.6 515.1L629.6 515.4L631.6 515.6L633.6 515.9L635.6 516.2L637.6 516.4L639.6 516.6L641.6 516.8L643.6 517.0L645.6 517.2L647.6 517.4L649.6 517.6L651.6 517.7L653.6 517.9L655.6 518.0L657.6 518.2L659.6 518.3L661.6 518.4L663.6 518.6L665.6 518.7L667.6 518.8L669.6 518.9L671.6 519.0L673.6 519.1L675.6 519.2L677.6 519.3L679.6 519.4L681.6 519.5L683.6 519.6L685.6 519.6L687.6 519.7L689.6 519.8L691.6 519.9L693.6 520.0L695.6 520.1L697.6 520.2L699.6 520.2L701.6 520.3L703.6 520.4L705.6 520.5L707.6 520.6L709.6 520.7L711.6 520.9L713.6 520.9" stroke="#ff22ff"/>
<path d="M87.6 501.3L89.6 500.9L91.6 500.2L93.6 499.6L95.6 498.8L97.6 498.0L99.6 497.1L101.6 496.2L103.6 495.2L105.6 494.1L107.6 492.9L109.6 491.6L111.6 490.3L113.6 488.8L115.6 487.2L117.6 485.6L119.6 483.8L121.6 481.9L123.6 479.9L125.6 477.8L127.6 475.6L129.6 473.2L131.6 470.7L133.6 468.0L135.6 465.3L137.6 462.3L139.6 459.3L141.6 456.0L143.6 452.7L145.6 449.1L147.6 445.4L149.6 441.6L151.6 437.6L153.6 433.5L155.6 429.3L157.6 425.0L159.6 420.5L161.6 415.9L163.6 411.2L165.6 406.4L167.6 401.6L169.6 396.6L171.6 391.6L173.6 386.5L175.6 381.4L177.6 376.4L179.6 371.4L181.6 366.5L183.6 361.5L185.6 356.4L187.6 351.0L189.6 345.1L191.6 338.8L193.6 332.2L195.6 325.5L197.6 318.6L199.6 311.8L201.6 305.1L203.6 298.4L205.6 291.9L207.6 285.5L209.6 279.2L211.6 273.0L213.6 267.0L215.6 261.0L217.6 255.2L219.6 249.5L221.6 243.8L223.6 238.1L225.6 232.5L227.6 226.9L229.6 221.3L231.6 215.8L233.6 210.5L235.6 205.5L237.6 200.8L239.6 196.4L241.6 192.3L243.6 188.3L245.6 184.4L247.6 180.4L249.6 176.4L251.6 172.4L253.6 168.4L255.6 164.4L257.6 160.6L259.6 156.8L261.6 153.2L263.6 149.7L265.6 146.4L267.6 143.3L269.6 140.5L271.6 138.0L273.6 136.1L275.6 134.7L277.6 133.8L279.6 133.2L281.6 132.8L283.6 132.4L285.6 132.1L287.6 131.8L289.6 131.5L291.6 131.2L293.6 130.9L295.6 130.7L297.6 130.5L299.6 130.4L301.6 130.5L303.6 130.9L305.6 131.8L307.6 133.2L309.6 135.2L311.6 137.5L313.6 140.0L315.6 142.6L317.6 145.2L319.6 147.7L321.6 150.2L323.6 152.5L325.6 154.7L327.6 156.8L329.6 159.1L331.6 161.5L333.6 164.3L335.6 167.6L337.6 171.2L339.6 175.3L341.6 179.9L343.6 184.8L345.6 190.0L347.6 195.4L349.6 200.4L351.6 204.8L353.6 208.3L355.6 211.1L357.6 213.4L359.6 215.5L361.6 217.6L363.6 220.0L365.6 222.8L367.6 226.2L369.6 230.0L371.6 234.1L373.6 238.4L375.6 242.9L377.6 247.4L379.6 251.9L381.6 256.4L383.6 260.8L385.6 265.0L387.6 268.9L389.6 272.5L391.6 276.0L393.6 279.3L395.6 282.6L397.6 285.9L399.6 289.4L401.6 293.2L403.6 297.1L405.6 301.2L407.6 305.3L409.6 309.3L411.6 313.2L413.6 317.0L415.6 320.5L417.6 324.0L419.6 327.3L421.6 330.7L423.6 334.1L425.6 337.5L427.6 341.0L429.6 344.6L431.6 348.2L433.6 351.8L435.6 355.5L437.6 359.2L439.6 362.8L441.6 366.5L443.6 370.1L445.6 373.8L447.6 377.3L449.6 380.8L451.6 384.3L453.6 387.7L455.6 391.0L457.6 394.3L459.6 397.6L461.6 400.8L463.6 404.0L465.6 407.1L467.6 410.2L469.6 413.2L471.6 416.2L473.6 419.1L475.6 421.9L477.6 424.7L479.6 427.4L481.6 430.1L483.6 432.6L485.6 435.2L487.6 437.6L489.6 440.0L491.6 442.4L493.6 444.7L495.6 446.9L497.6 449.1L499.6 451.2L501.6 453.3L503.6 455.4L505.6 457.4L507.6 459.3L509.6 461.3L511.6 463.1L513.6 464.9L515.6 466.7L517.6 468.5L519.6 470.1L521.6 471.8L523.6 473.4L525.6 475.0L527.6 476.5L529.6 478.0L531.6 479.4L533.6 480.9L535.6 482.2L537.6 483.6L539.6 484.9L541.6 486.1L543.6 487.4L545.6 488.6L547.6 489.7L549.6 490.9L551.6 492.0L553.6 493.0L555.6 494.1L557.6 495.1L559.6 496.1L561.6 497.0L563.6 497.9L565.6 498.8L567.6 499.7L569.6 500.5L571.6 501.3L573.6 502.1L575.6 502.9L577.6 503.6L579.6 504.3L581.6 505.0L583.6 505.7L585.6 506.4L587.6 507.0L589.6 507.6L591.6 508.2L593.6 508.7L595.6 509.3L597.6 509.8L599.6 510.3L601.6 510.8L603.6 511.3L605.6 511.7L607.6 512.2L609.6 512.6L611.6 513.0L613.6 513.4L615.6 513.7L617.6 514.1L619.6 514.4L621.6 514.8L623.6 515.1L625.6 515.4L627.6 515.7L629.6 515.9L631.6 516.2L633.6 516.4L635.6 516.7L637.6 516.9L639.6 517.1L641.6 517.3L643.6 517.5L645.6 517.7L647.6 517.9L649.6 518.0L651.6 518.2L653.6 518.3L655.6 518.5L657.6 518.6L659.6 518.7L661.6 518.9L663.6 519.0L665.6 519.1L667.6 519.2L669.6 519.3L671.6 519.4L673.6 519.5L675.6 519.6L677.6 519.7L679.6 519.8L681.6 519.9L683.6 519.9L685.6 520.0L687.6 520.1L689.6 520.2L691.6 520.3L693.6 520.4L695.6 520.4L697.6 520.5L699.6 520.6L701.6 520.7L703.6 520.8L705.6 520.9L707.6 521.0L709.6 521.1L711.6 521.2L713.6 521.2" stroke="#80801a"/>
<path d="M87.6 502.0L89.6 501.6L91.6 500.9L93.6 500.2L95.6 499.5L97.6 498.7L99.6 497.9L101.6 496.9L103.6 495.9L105.6 494.9L107.6 493.7L109.6 492.5L111.6 491.1L113.6 489.7L115.6 488.2L117.6 486.6L119.6 484.9L121.6 483.0L123.6 481.1L125.6 479.0L127.6 476.8L129.6 474.5L131.6 472.0L133.6 469.5L135.6 466.7L137.6 463.9L139.6 460.8L141.6 457.7L143.6 454.3L145.6 450.8L147.6 447.2L149.6 443.4L151.6 439.5L153.6 435.4L155.6 431.3L157.6 427.0L159.6 422.6L161.6 418.1L163.6 413.5L165.6 408.8L167.6 404.0L169.6 399.1L171.6 394.2L173.6 389.3L175.6 384.4L177.6 379.5L179.6 374.7L181.6 370.0L183.6 365.3L185.6 360.3L187.6 355.1L189.6 349.4L191.6 343.2L193.6 336.8L195.6 330.1L197.6 323.3L199.6 316.6L201.6 310.0L203.6 303.4L205.6 297.0L207.6 290.7L209.6 284.5L211.6 278.4L213.6 272.4L215.6 266.6L217.6 260.9L219.6 255.3L221.6 249.8L223.6 244.3L225.6 238.9L227.6 233.4L229.6 228.0L231.6 222.7L233.6 217.6L235.6 212.8L237.6 208.3L239.6 204.1L241.6 200.1L243.6 196.3L245.6 192.5L247.6 188.7L249.6 184.7L251.6 180.8L253.6 176.8L255.6 172.9L257.6 169.1L259.6 165.4L261.6 161.8L263.6 158.3L265.6 155.1L267.6 152.0L269.6 149.2L271.6 146.7L273.6 144.8L275.6 143.5L277.6 142.6L279.6 142.1L281.6 141.7L283.6 141.4L285.6 141.1L287.6 140.8L289.6 140.5L291.6 140.2L293.6 140.0L295.6 139.7L297.6 139.5L299.6 139.4L301.6 139.4L303.6 139.8L305.6 140.7L307.6 142.1L309.6 144.0L311.6 146.3L313.6 148.9L315.6 151.4L317.6 154.0L319.6 156.4L321.6 158.8L323.6 161.0L325.6 163.1L327.6 165.2L329.6 167.3L331.6 169.6L333.6 172.3L335.6 175.4L337.6 179.0L339.6 183.0L341.6 187.5L343.6 192.4L345.6 197.7L347.6 203.0L349.6 208.1L351.6 212.4L353.6 215.9L355.6 218.6L357.6 220.8L359.6 222.7L361.6 224.7L363.6 227.0L365.6 229.7L367.6 232.9L369.6 236.7L371.6 240.7L373.6 245.0L375.6 249.4L377.6 253.8L379.6 258.3L381.6 262.8L383.6 267.2L385.6 271.3L387.6 275.2L389.6 278.8L391.6 282.2L393.6 285.3L395.6 288.5L397.6 291.7L399.6 295.2L401.6 298.8L403.6 302.7L405.6 306.7L407.6 310.7L409.6 314.7L411.6 318.5L413.6 322.1L415.6 325.5L417.6 328.8L419.6 332.1L421.6 335.3L423.6 338.6L425.6 342.0L427.6 345.4L429.6 348.9L431.6 352.4L433.6 356.0L435.6 359.6L437.6 363.2L439.6 366.9L441.6 370.5L443.6 374.1L445.6 377.7L447.6 381.3L449.6 384.8L451.6 388.3L453.6 391.6L455.6 395.0L457.6 398.2L459.6 401.4L461.6 404.6L463.6 407.7L465.6 410.7L467.6 413.6L469.6 416.5L471.6 419.4L473.6 422.2L475.6 424.9L477.6 427.6L479.6 430.2L481.6 432.7L483.6 435.2L485.6 437.7L487.6 440.1L489.6 442.4L491.6 444.7L493.6 447.0L495.6 449.2L497.6 451.3L499.6 453.4L501.6 455.5L503.6 457.5L505.6 459.4L507.6 461.4L509.6 463.2L511.6 465.0L513.6 466.8L515.6 468.6L517.6 470.2L519.6 471.9L521.6 473.5L523.6 475.1L525.6 476.6L527.6 478.1L529.6 479.5L531.6 480.9L533.6 482.3L535.6 483.6L537.6 484.9L539.6 486.2L541.6 487.4L543.6 488.6L545.6 489.8L547.6 490.9L549.6 492.0L551.6 493.1L553.6 494.1L555.6 495.1L557.6 496.1L559.6 497.0L561.6 498.0L563.6 498.9L565.6 499.7L567.6 500.6L569.6 501.4L571.6 502.2L573.6 502.9L575.6 503.7L577.6 504.4L579.6 505.1L581.6 505.7L583.6 506.4L585.6 507.0L587.6 507.6L589.6 508.2L591.6 508.8L593.6 509.3L595.6 509.9L597.6 510.4L599.6 510.9L601.6 511.3L603.6 511.8L605.6 512.2L607.6 512.6L609.6 513.0L611.6 513.4L613.6 513.8L615.6 514.2L617.6 514.5L619.6 514.8L621.6 515.2L623.6 515.5L625.6 515.7L627.6 516.0L629.6 516.3L631.6 516.5L633.6 516.8L635.6 517.0L637.6 517.2L639.6 517.4L641.6 517.6L643.6 517.8L645.6 518.0L647.6 518.2L649.6 518.3L651.6 518.5L653.6 518.6L655.6 518.8L657.6 518.9L659.6 519.0L661.6 519.1L663.6 519.2L665.6 519.4L667.6 519.5L669.6 519.6L671.6 519.7L673.6 519.8L675.6 519.9L677.6 519.9L679.6 520.0L681.6 520.1L683.6 520.2L685.6 520.3L687.6 520.4L689.6 520.4L691.6 520.5L693.6 520.6L695.6 520.7L697.6 520.8L699.6 520.9L701.6 521.0L703.6 521.1L705.6 521.2L707.6 521.3L709.6 521.4L711.6 521.5L713.6 521.5" stroke="#ff2080"/>
</g>
<text transform="translate(86.70,572.00) scale(1.0000,1.0500)" font-family='"Liberation Sans", Arial, Helvetica, sans-serif' font-size="21.2" font-weight="bold" text-anchor="middle" fill="#111111" stroke="#111111" stroke-width="0.3">280</text>
<text transform="translate(192.00,572.00) scale(1.0000,1.0500)" font-family='"Liberation Sans", Arial, Helvetica, sans-serif' font-size="21.2" font-weight="bold" text-anchor="middle" fill="#111111" stroke="#111111" stroke-width="0.3">290</text>
<text transform="translate(295.80,572.00) scale(1.0000,1.0500)" font-family='"Liberation Sans", Arial, Helvetica, sans-serif' font-size="21.2" font-weight="bold" text-anchor="middle" fill="#111111" stroke="#111111" stroke-width="0.3">300</text>
<text transform="translate(399.85,572.00) scale(1.0000,1.0500)" font-family='"Liberation Sans", Arial, Helvetica, sans-serif' font-size="21.2" font-weight="bold" text-anchor="middle" fill="#111111" stroke="#111111" stroke-width="0.3">310</text>
<text transform="translate(503.70,572.00) scale(1.0000,1.0500)" font-family='"Liberation Sans", Arial, Helvetica, sans-serif' font-size="21.2" font-weight="bold" text-anchor="middle" fill="#111111" stroke="#111111" stroke-width="0.3">320</text>
<text transform="translate(607.50,572.00) scale(1.0000,1.0500)" font-family='"Liberation Sans", Arial, Helvetica, sans-serif' font-size="21.2" font-weight="bold" text-anchor="middle" fill="#111111" stroke="#111111" stroke-width="0.3">330</text>
<text transform="translate(711.40,572.00) scale(1.0000,1.0500)" font-family='"Liberation Sans", Arial, Helvetica, sans-serif' font-size="21.2" font-weight="bold" text-anchor="middle" fill="#111111" stroke="#111111" stroke-width="0.3">340</text>
<text transform="translate(70.90,544.20) scale(1.0000,1.0500)" font-family='"Liberation Sans", Arial, Helvetica, sans-serif' font-size="21.2" font-weight="bold" text-anchor="end" fill="#111111" stroke="#111111" stroke-width="0.3">0</text>
<text transform="translate(70.90,475.70) scale(1.0000,1.0500)" font-family='"Liberation Sans", Arial, Helvetica, sans-serif' font-size="21.2" font-weight="bold" text-anchor="end" fill="#111111" stroke="#111111" stroke-width="0.3">100</text>
<text transform="translate(70.90,407.70) scale(1.0000,1.0500)" font-family='"Liberation Sans", Arial, Helvetica, sans-serif' font-size="21.2" font-weight="bold" text-anchor="end" fill="#111111" stroke="#111111" stroke-width="0.3">200</text>
<text transform="translate(70.90,339.80) scale(1.0000,1.0500)" font-family='"Liberation Sans", Arial, Helvetica, sans-serif' font-size="21.2" font-weight="bold" text-anchor="end" fill="#111111" stroke="#111111" stroke-width="0.3">300</text>
<text transform="translate(70.90,271.85) scale(1.0000,1.0500)" font-family='"Liberation Sans", Arial, Helvetica, sans-serif' font-size="21.2" font-weight="bold" text-anchor="end" fill="#111111" stroke="#111111" stroke-width="0.3">400</text>
<text transform="translate(70.90,203.40) scale(1.0000,1.0500)" font-family='"Liberation Sans", Arial, Helvetica, sans-serif' font-size="21.2" font-weight="bold" text-anchor="end" fill="#111111" stroke="#111111" stroke-width="0.3">500</text>
<text transform="translate(70.90,134.90) scale(1.0000,1.0500)" font-family='"Liberation Sans", Arial, Helvetica, sans-serif' font-size="21.2" font-weight="bold" text-anchor="end" fill="#111111" stroke="#111111" stroke-width="0.3">600</text>
<text transform="translate(70.90,66.40) scale(1.0000,1.0500)" font-family='"Liberation Sans", Arial, Helvetica, sans-serif' font-size="21.2" font-weight="bold" text-anchor="end" fill="#111111" stroke="#111111" stroke-width="0.3">700</text>
<text transform="translate(400.30,618.20) scale(1.0000,1.0500)" font-family='"Liberation Sans", Arial, Helvetica, sans-serif' font-size="26.3" font-weight="bold" text-anchor="middle" fill="#111111" stroke="#111111" stroke-width="0.3">Wavelength (nm)</text>
<text transform="translate(24.00,271.00) rotate(-90) scale(1.1200,1.0000)" font-family='"Liberation Sans", Arial, Helvetica, sans-serif' font-size="24.5" font-weight="bold" text-anchor="middle" fill="#111111" stroke="#111111" stroke-width="0.3">Flouresence intensity</text>
<rect x="540" y="12.2" width="165.00" height="337.80" fill="#ffffff" stroke="#3a3a3a" stroke-width="1.6"/>
<text transform="translate(557.80,40.30) scale(1.0000,1.0500)" font-family='"Liberation Sans", Arial, Helvetica, sans-serif' font-size="26.2" font-weight="bold" text-anchor="start" fill="#111111" stroke="#111111" stroke-width="0.3">QTP</text>
<line x1="544" y1="68.80" x2="602.5" y2="68.80" stroke="#111111" stroke-width="2.3"/>
<text transform="translate(609.60,78.10) scale(1.0000,1.0500)" font-family='"Liberation Sans", Arial, Helvetica, sans-serif' font-size="25.5" font-weight="bold" text-anchor="start" fill="#111111" stroke="#111111" stroke-width="0.3">0 (<tspan font-family='"Liberation Serif", "Times New Roman", serif' font-size="25.5" letter-spacing="-0.6">µM</tspan>)</text>
<line x1="544" y1="106.20" x2="602.5" y2="106.20" stroke="#ff2a2a" stroke-width="2.3"/>
<text transform="translate(609.60,115.50) scale(1.0000,1.0500)" font-family='"Liberation Sans", Arial, Helvetica, sans-serif' font-size="25.5" font-weight="bold" text-anchor="start" fill="#111111" stroke="#111111" stroke-width="0.3">5 (<tspan font-family='"Liberation Serif", "Times New Roman", serif' font-size="25.5" letter-spacing="-0.6">µM</tspan>)</text>
<line x1="544" y1="143.60" x2="602.5" y2="143.60" stroke="#22ee22" stroke-width="2.3"/>
<text transform="translate(609.60,152.90) scale(1.0000,1.0500)" font-family='"Liberation Sans", Arial, Helvetica, sans-serif' font-size="25.5" font-weight="bold" text-anchor="start" fill="#111111" stroke="#111111" stroke-width="0.3">10 (<tspan font-family='"Liberation Serif", "Times New Roman", serif' font-size="25.5" letter-spacing="-0.6">µM</tspan>)</text>
<line x1="544" y1="181.00" x2="602.5" y2="181.00" stroke="#2222ff" stroke-width="2.3"/>
<text transform="translate(609.60,190.30) scale(1.0000,1.0500)" font-family='"Liberation Sans", Arial, Helvetica, sans-serif' font-size="25.5" font-weight="bold" text-anchor="start" fill="#111111" stroke="#111111" stroke-width="0.3">15 (<tspan font-family='"Liberation Serif", "Times New Roman", serif' font-size="25.5" letter-spacing="-0.6">µM</tspan>)</text>
<line x1="544" y1="218.40" x2="602.5" y2="218.40" stroke="#22eeff" stroke-width="2.3"/>
<text transform="translate(609.60,227.70) scale(1.0000,1.0500)" font-family='"Liberation Sans", Arial, Helvetica, sans-serif' font-size="25.5" font-weight="bold" text-anchor="start" fill="#111111" stroke="#111111" stroke-width="0.3">20 (<tspan font-family='"Liberation Serif", "Times New Roman", serif' font-size="25.5" letter-spacing="-0.6">µM</tspan>)</text>
<line x1="544" y1="255.80" x2="602.5" y2="255.80" stroke="#ff22ff" stroke-width="2.3"/>
<text transform="translate(609.60,265.10) scale(1.0000,1.0500)" font-family='"Liberation Sans", Arial, Helvetica, sans-serif' font-size="25.5" font-weight="bold" text-anchor="start" fill="#111111" stroke="#111111" stroke-width="0.3">25 (<tspan font-family='"Liberation Serif", "Times New Roman", serif' font-size="25.5" letter-spacing="-0.6">µM</tspan>)</text>
<line x1="544" y1="293.20" x2="602.5" y2="293.20" stroke="#80801a" stroke-width="2.3"/>
<text transform="translate(609.60,302.50) scale(1.0000,1.0500)" font-family='"Liberation Sans", Arial, Helvetica, sans-serif' font-size="25.5" font-weight="bold" text-anchor="start" fill="#111111" stroke="#111111" stroke-width="0.3">30 <tspan font-family='"Liberation Serif", "Times New Roman", serif' font-size="25.5" letter-spacing="-0.6">µM</tspan>)</text>
<line x1="544" y1="330.60" x2="602.5" y2="330.60" stroke="#ff2080" stroke-width="2.3"/>
<text transform="translate(609.60,339.90) scale(1.0000,1.0500)" font-family='"Liberation Sans", Arial, Helvetica, sans-serif' font-size="25.5" font-weight="bold" text-anchor="start" fill="#111111" stroke="#111111" stroke-width="0.3">35 (<tspan font-family='"Liberation Serif", "Times New Roman", serif' font-size="25.5" letter-spacing="-0.6">µM</tspan>)</text>
<text transform="translate(370.40,708.30) scale(0.9400,1.0650)" font-family='"Liberation Sans", Arial, Helvetica, sans-serif' font-size="33.5" font-weight="normal" text-anchor="middle" fill="#1a1a1a" stroke="#1a1a1a" stroke-width="0.45">A</text>
</g>
<g id="panel-B">
<rect x="892.95" y="29.1" width="621.80" height="515.25" fill="none" stroke="#454545" stroke-width="1.5"/>
<path d="M892.95 544.35v10M932.38 544.35v5M971.20 544.35v10M1010.02 544.35v5M1048.85 544.35v10M1087.67 544.35v5M1126.50 544.35v10M1165.33 544.35v5M1204.15 544.35v10M1242.97 544.35v5M1281.80 544.35v10M1320.62 544.35v5M1359.45 544.35v10M1398.28 544.35v5M1437.10 544.35v10M1475.92 544.35v5M1514.75 544.35v10M892.95 544.35h-10M892.95 517.24h-5M892.95 490.13h-10M892.95 463.02h-5M892.95 435.91h-10M892.95 408.80h-5M892.95 381.69h-10M892.95 354.58h-5M892.95 327.47h-10M892.95 300.36h-5M892.95 273.25h-10M892.95 246.14h-5M892.95 219.03h-10M892.95 191.92h-5M892.95 164.81h-10M892.95 137.70h-5M892.95 110.59h-10M892.95 83.48h-5M892.95 56.37h-10" stroke="#454545" stroke-width="1.5" fill="none"/>
<clipPath id="clipB"><rect x="892.45" y="29.1" width="623.30" height="517.25"/></clipPath>
<g clip-path="url(#clipB)" fill="none" stroke-width="2.6" stroke-linejoin="round" class="crv">
<path d="M893.0 527.7L895.0 527.6L897.0 527.5L899.0 527.4L901.0 527.4L903.0 527.4L905.0 527.4L907.0 527.5L909.0 527.5L911.0 527.6L913.0 527.7L915.0 527.8L917.0 528.0L919.0 528.1L921.0 528.2L923.0 528.3L925.0 528.4L927.0 528.5L929.0 528.6L931.0 528.7L933.0 528.7L935.0 528.8L937.0 528.8L939.0 528.7L941.0 528.7L943.0 528.6L945.0 528.4L947.0 528.2L949.0 528.0L951.0 527.7L953.0 527.3L955.0 526.9L957.0 526.4L959.0 525.9L961.0 525.3L963.0 524.6L965.0 523.9L967.0 523.0L969.0 522.1L971.0 521.1L973.0 520.0L975.0 518.8L977.0 517.5L979.0 516.1L981.0 514.6L983.0 513.0L985.0 511.3L987.0 509.6L989.0 507.8L991.0 505.9L993.0 503.9L995.0 501.8L997.0 499.7L999.0 497.5L1001.0 495.2L1003.0 492.9L1005.0 490.5L1007.0 488.1L1009.0 485.6L1011.0 483.1L1013.0 480.5L1015.0 477.9L1017.0 475.2L1019.0 472.5L1021.0 469.8L1023.0 467.0L1025.0 464.2L1027.0 461.3L1029.0 458.4L1031.0 455.4L1033.0 452.3L1035.0 449.1L1037.0 445.8L1039.0 442.4L1041.0 438.8L1043.0 435.0L1045.0 431.0L1047.0 426.9L1049.0 422.6L1051.0 418.0L1053.0 413.3L1055.0 408.5L1057.0 403.5L1059.0 398.4L1061.0 393.3L1063.0 388.2L1065.0 382.9L1067.0 377.7L1069.0 372.4L1071.0 367.0L1073.0 361.6L1075.0 356.2L1077.0 350.7L1079.0 345.2L1081.0 339.7L1083.0 334.1L1085.0 328.5L1087.0 322.9L1089.0 317.2L1091.0 311.5L1093.0 305.8L1095.0 300.1L1097.0 294.4L1099.0 288.6L1101.0 282.9L1103.0 277.1L1105.0 271.3L1107.0 265.5L1109.0 259.7L1111.0 253.9L1113.0 248.1L1115.0 242.4L1117.0 236.6L1119.0 230.9L1121.0 225.1L1123.0 219.4L1125.0 213.7L1127.0 208.0L1129.0 202.3L1131.0 196.7L1133.0 191.2L1135.0 185.8L1137.0 180.5L1139.0 175.2L1141.0 170.1L1143.0 165.1L1145.0 160.1L1147.0 155.1L1149.0 149.8L1151.0 144.4L1153.0 138.9L1155.0 133.4L1157.0 128.0L1159.0 122.8L1161.0 117.7L1163.0 112.7L1165.0 107.8L1167.0 103.0L1169.0 98.3L1171.0 93.6L1173.0 89.1L1175.0 84.8L1177.0 80.9L1179.0 77.3L1181.0 74.0L1183.0 71.2L1185.0 68.7L1187.0 66.6L1189.0 64.7L1191.0 62.8L1193.0 60.8L1195.0 58.7L1197.0 56.5L1199.0 54.5L1201.0 53.1L1203.0 52.3L1205.0 51.9L1207.0 51.7L1209.0 51.6L1211.0 51.6L1213.0 51.7L1215.0 51.9L1217.0 52.3L1219.0 52.6L1221.0 52.8L1223.0 53.0L1225.0 53.2L1227.0 53.9L1229.0 55.2L1231.0 57.1L1233.0 59.4L1235.0 61.6L1237.0 63.9L1239.0 66.3L1241.0 69.0L1243.0 71.9L1245.0 75.1L1247.0 78.7L1249.0 82.5L1251.0 86.6L1253.0 90.9L1255.0 95.5L1257.0 100.3L1259.0 105.4L1261.0 110.7L1263.0 116.1L1265.0 121.7L1267.0 127.5L1269.0 133.6L1271.0 140.0L1273.0 146.8L1275.0 154.0L1277.0 161.6L1279.0 169.6L1281.0 178.1L1283.0 186.8L1285.0 195.4L1287.0 203.8L1289.0 211.7L1291.0 219.4L1293.0 226.9L1295.0 234.3L1297.0 241.6L1299.0 249.1L1301.0 256.7L1303.0 264.7L1305.0 273.0L1307.0 281.6L1309.0 290.4L1311.0 299.3L1313.0 308.1L1315.0 316.9L1317.0 325.5L1319.0 334.1L1321.0 342.5L1323.0 350.8L1325.0 358.9L1327.0 366.8L1329.0 374.6L1331.0 382.2L1333.0 389.5L1335.0 396.7L1337.0 403.5L1339.0 410.2L1341.0 416.5L1343.0 422.6L1345.0 428.5L1347.0 434.1L1349.0 439.4L1351.0 444.6L1353.0 449.5L1355.0 454.2L1357.0 458.7L1359.0 463.0L1361.0 467.1L1363.0 471.0L1365.0 474.8L1367.0 478.3L1369.0 481.7L1371.0 484.9L1373.0 488.0L1375.0 490.9L1377.0 493.7L1379.0 496.4L1381.0 498.9L1383.0 501.3L1385.0 503.6L1387.0 505.8L1389.0 507.9L1391.0 509.8L1393.0 511.7L1395.0 513.4L1397.0 515.1L1399.0 516.7L1401.0 518.1L1403.0 519.5L1405.0 520.9L1407.0 522.1L1409.0 523.3L1411.0 524.4L1413.0 525.4L1415.0 526.4L1417.0 527.3L1419.0 528.2L1421.0 529.0L1423.0 529.7L1425.0 530.4L1427.0 531.1L1429.0 531.7L1431.0 532.3L1433.0 532.9L1435.0 533.5L1437.0 534.0L1439.0 534.5L1441.0 535.0L1443.0 535.5L1445.0 535.9L1447.0 536.3L1449.0 536.7L1451.0 537.1L1453.0 537.5L1455.0 537.8L1457.0 538.2L1459.0 538.5L1461.0 538.8L1463.0 539.1L1465.0 539.4L1467.0 539.6L1469.0 539.9L1471.0 540.1L1473.0 540.3L1475.0 540.5L1477.0 540.7L1479.0 540.9L1481.0 541.0L1483.0 541.2L1485.0 541.3L1487.0 541.4L1489.0 541.5L1491.0 541.6L1493.0 541.7L1495.0 541.8L1497.0 541.9L1499.0 542.0L1501.0 542.0L1503.0 542.1L1505.0 542.1L1507.0 542.1L1509.0 542.2L1511.0 542.2L1513.0 542.2L1515.0 542.2" stroke="#111111"/>
<path d="M893.0 528.0L895.0 527.9L897.0 527.9L899.0 527.8L901.0 527.8L903.0 527.9L905.0 527.9L907.0 528.0L909.0 528.0L911.0 528.1L913.0 528.2L915.0 528.3L917.0 528.5L919.0 528.6L921.0 528.7L923.0 528.8L925.0 528.9L927.0 528.9L929.0 529.0L931.0 529.1L933.0 529.1L935.0 529.1L937.0 529.1L939.0 529.0L941.0 528.9L943.0 528.8L945.0 528.6L947.0 528.4L949.0 528.2L951.0 527.9L953.0 527.6L955.0 527.2L957.0 526.7L959.0 526.2L961.0 525.6L963.0 525.0L965.0 524.2L967.0 523.5L969.0 522.6L971.0 521.6L973.0 520.6L975.0 519.5L977.0 518.2L979.0 516.9L981.0 515.5L983.0 513.9L985.0 512.3L987.0 510.6L989.0 508.8L991.0 506.9L993.0 505.0L995.0 502.9L997.0 500.8L999.0 498.6L1001.0 496.3L1003.0 494.0L1005.0 491.6L1007.0 489.1L1009.0 486.7L1011.0 484.1L1013.0 481.6L1015.0 479.0L1017.0 476.3L1019.0 473.6L1021.0 470.9L1023.0 468.2L1025.0 465.4L1027.0 462.6L1029.0 459.7L1031.0 456.8L1033.0 453.7L1035.0 450.6L1037.0 447.3L1039.0 443.9L1041.0 440.4L1043.0 436.7L1045.0 432.9L1047.0 428.9L1049.0 424.7L1051.0 420.3L1053.0 415.8L1055.0 411.1L1057.0 406.4L1059.0 401.5L1061.0 396.6L1063.0 391.6L1065.0 386.5L1067.0 381.4L1069.0 376.2L1071.0 371.0L1073.0 365.8L1075.0 360.4L1077.0 355.1L1079.0 349.7L1081.0 344.2L1083.0 338.7L1085.0 333.2L1087.0 327.7L1089.0 322.1L1091.0 316.5L1093.0 310.9L1095.0 305.2L1097.0 299.6L1099.0 293.9L1101.0 288.2L1103.0 282.6L1105.0 276.9L1107.0 271.2L1109.0 265.6L1111.0 259.9L1113.0 254.3L1115.0 248.7L1117.0 243.2L1119.0 237.6L1121.0 232.1L1123.0 226.6L1125.0 221.2L1127.0 215.7L1129.0 210.2L1131.0 204.9L1133.0 199.5L1135.0 194.3L1137.0 189.2L1139.0 184.2L1141.0 179.2L1143.0 174.3L1145.0 169.5L1147.0 164.5L1149.0 159.5L1151.0 154.2L1153.0 148.9L1155.0 143.7L1157.0 138.5L1159.0 133.4L1161.0 128.3L1163.0 123.3L1165.0 118.4L1167.0 113.6L1169.0 108.8L1171.0 104.2L1173.0 99.8L1175.0 95.7L1177.0 91.9L1179.0 88.4L1181.0 85.2L1183.0 82.5L1185.0 80.1L1187.0 78.0L1189.0 76.1L1191.0 74.3L1193.0 72.4L1195.0 70.4L1197.0 68.3L1199.0 66.4L1201.0 65.0L1203.0 64.3L1205.0 63.9L1207.0 63.7L1209.0 63.6L1211.0 63.6L1213.0 63.7L1215.0 63.9L1217.0 64.3L1219.0 64.6L1221.0 64.8L1223.0 65.0L1225.0 65.3L1227.0 66.0L1229.0 67.3L1231.0 69.2L1233.0 71.4L1235.0 73.6L1237.0 75.9L1239.0 78.3L1241.0 80.9L1243.0 83.8L1245.0 87.0L1247.0 90.4L1249.0 94.2L1251.0 98.2L1253.0 102.4L1255.0 106.9L1257.0 111.7L1259.0 116.7L1261.0 121.9L1263.0 127.2L1265.0 132.7L1267.0 138.4L1269.0 144.3L1271.0 150.5L1273.0 157.1L1275.0 164.1L1277.0 171.5L1279.0 179.4L1281.0 187.6L1283.0 196.1L1285.0 204.5L1287.0 212.7L1289.0 220.6L1291.0 228.2L1293.0 235.7L1295.0 243.1L1297.0 250.4L1299.0 257.9L1301.0 265.5L1303.0 273.4L1305.0 281.6L1307.0 290.0L1309.0 298.5L1311.0 307.0L1313.0 315.6L1315.0 324.0L1317.0 332.3L1319.0 340.5L1321.0 348.6L1323.0 356.6L1325.0 364.4L1327.0 372.1L1329.0 379.6L1331.0 386.9L1333.0 394.0L1335.0 401.0L1337.0 407.7L1339.0 414.1L1341.0 420.3L1343.0 426.3L1345.0 432.0L1347.0 437.5L1349.0 442.7L1351.0 447.7L1353.0 452.5L1355.0 457.1L1357.0 461.4L1359.0 465.6L1361.0 469.6L1363.0 473.4L1365.0 477.0L1367.0 480.5L1369.0 483.8L1371.0 486.9L1373.0 489.9L1375.0 492.7L1377.0 495.4L1379.0 498.0L1381.0 500.4L1383.0 502.7L1385.0 504.9L1387.0 507.0L1389.0 509.0L1391.0 510.9L1393.0 512.7L1395.0 514.5L1397.0 516.1L1399.0 517.6L1401.0 519.1L1403.0 520.4L1405.0 521.7L1407.0 522.9L1409.0 524.1L1411.0 525.1L1413.0 526.2L1415.0 527.1L1417.0 528.0L1419.0 528.8L1421.0 529.6L1423.0 530.4L1425.0 531.1L1427.0 531.7L1429.0 532.4L1431.0 533.0L1433.0 533.5L1435.0 534.0L1437.0 534.6L1439.0 535.0L1441.0 535.5L1443.0 535.9L1445.0 536.4L1447.0 536.8L1449.0 537.1L1451.0 537.5L1453.0 537.9L1455.0 538.2L1457.0 538.5L1459.0 538.8L1461.0 539.1L1463.0 539.3L1465.0 539.6L1467.0 539.8L1469.0 540.0L1471.0 540.2L1473.0 540.4L1475.0 540.6L1477.0 540.7L1479.0 540.9L1481.0 541.0L1483.0 541.2L1485.0 541.3L1487.0 541.4L1489.0 541.5L1491.0 541.6L1493.0 541.7L1495.0 541.8L1497.0 541.9L1499.0 541.9L1501.0 542.0L1503.0 542.1L1505.0 542.1L1507.0 542.2L1509.0 542.2L1511.0 542.3L1513.0 542.3L1515.0 542.4" stroke="#ff2a2a"/>
<path d="M893.0 528.2L895.0 528.2L897.0 528.2L899.0 528.2L901.0 528.2L903.0 528.3L905.0 528.4L907.0 528.4L909.0 528.5L911.0 528.6L913.0 528.7L915.0 528.8L917.0 528.9L919.0 529.0L921.0 529.1L923.0 529.2L925.0 529.3L927.0 529.3L929.0 529.4L931.0 529.4L933.0 529.4L935.0 529.4L937.0 529.3L939.0 529.3L941.0 529.2L943.0 529.0L945.0 528.9L947.0 528.6L949.0 528.4L951.0 528.1L953.0 527.8L955.0 527.4L957.0 526.9L959.0 526.4L961.0 525.9L963.0 525.3L965.0 524.6L967.0 523.9L969.0 523.0L971.0 522.1L973.0 521.1L975.0 520.1L977.0 518.9L979.0 517.6L981.0 516.3L983.0 514.8L985.0 513.2L987.0 511.6L989.0 509.8L991.0 507.9L993.0 506.0L995.0 503.9L997.0 501.8L999.0 499.6L1001.0 497.3L1003.0 494.9L1005.0 492.5L1007.0 490.1L1009.0 487.6L1011.0 485.1L1013.0 482.5L1015.0 480.0L1017.0 477.3L1019.0 474.7L1021.0 472.0L1023.0 469.3L1025.0 466.5L1027.0 463.7L1029.0 460.9L1031.0 457.9L1033.0 454.9L1035.0 451.8L1037.0 448.6L1039.0 445.3L1041.0 441.9L1043.0 438.3L1045.0 434.6L1047.0 430.7L1049.0 426.6L1051.0 422.4L1053.0 418.0L1055.0 413.5L1057.0 408.9L1059.0 404.2L1061.0 399.5L1063.0 394.6L1065.0 389.7L1067.0 384.8L1069.0 379.7L1071.0 374.6L1073.0 369.5L1075.0 364.3L1077.0 359.0L1079.0 353.7L1081.0 348.3L1083.0 342.9L1085.0 337.4L1087.0 332.0L1089.0 326.4L1091.0 320.9L1093.0 315.4L1095.0 309.8L1097.0 304.2L1099.0 298.6L1101.0 293.0L1103.0 287.5L1105.0 281.9L1107.0 276.3L1109.0 270.8L1111.0 265.3L1113.0 259.9L1115.0 254.4L1117.0 249.0L1119.0 243.7L1121.0 238.4L1123.0 233.1L1125.0 227.8L1127.0 222.6L1129.0 217.3L1131.0 212.1L1133.0 207.0L1135.0 202.0L1137.0 197.0L1139.0 192.1L1141.0 187.3L1143.0 182.5L1145.0 177.8L1147.0 173.0L1149.0 168.1L1151.0 163.0L1153.0 157.9L1155.0 152.9L1157.0 147.9L1159.0 142.9L1161.0 137.9L1163.0 132.8L1165.0 127.9L1167.0 123.0L1169.0 118.3L1171.0 113.7L1173.0 109.4L1175.0 105.3L1177.0 101.6L1179.0 98.3L1181.0 95.3L1183.0 92.6L1185.0 90.3L1187.0 88.3L1189.0 86.4L1191.0 84.6L1193.0 82.8L1195.0 80.9L1197.0 78.9L1199.0 77.1L1201.0 75.7L1203.0 74.9L1205.0 74.6L1207.0 74.4L1209.0 74.3L1211.0 74.3L1213.0 74.4L1215.0 74.7L1217.0 75.0L1219.0 75.3L1221.0 75.6L1223.0 75.8L1225.0 76.2L1227.0 76.9L1229.0 78.2L1231.0 80.0L1233.0 82.2L1235.0 84.4L1237.0 86.6L1239.0 89.0L1241.0 91.6L1243.0 94.4L1245.0 97.6L1247.0 101.0L1249.0 104.7L1251.0 108.6L1253.0 112.7L1255.0 117.2L1257.0 121.9L1259.0 126.8L1261.0 131.9L1263.0 137.2L1265.0 142.6L1267.0 148.1L1269.0 153.9L1271.0 159.9L1273.0 166.3L1275.0 173.2L1277.0 180.5L1279.0 188.1L1281.0 196.1L1283.0 204.4L1285.0 212.7L1287.0 220.7L1289.0 228.5L1291.0 236.1L1293.0 243.6L1295.0 251.0L1297.0 258.3L1299.0 265.8L1301.0 273.4L1303.0 281.2L1305.0 289.2L1307.0 297.4L1309.0 305.7L1311.0 314.0L1313.0 322.2L1315.0 330.4L1317.0 338.4L1319.0 346.3L1321.0 354.1L1323.0 361.8L1325.0 369.3L1327.0 376.7L1329.0 384.0L1331.0 391.1L1333.0 398.1L1335.0 404.8L1337.0 411.4L1339.0 417.7L1341.0 423.8L1343.0 429.6L1345.0 435.2L1347.0 440.5L1349.0 445.6L1351.0 450.5L1353.0 455.2L1355.0 459.6L1357.0 463.9L1359.0 467.9L1361.0 471.8L1363.0 475.5L1365.0 479.0L1367.0 482.4L1369.0 485.6L1371.0 488.6L1373.0 491.5L1375.0 494.3L1377.0 496.9L1379.0 499.4L1381.0 501.7L1383.0 504.0L1385.0 506.1L1387.0 508.2L1389.0 510.1L1391.0 512.0L1393.0 513.7L1395.0 515.4L1397.0 517.0L1399.0 518.4L1401.0 519.9L1403.0 521.2L1405.0 522.5L1407.0 523.7L1409.0 524.8L1411.0 525.8L1413.0 526.8L1415.0 527.8L1417.0 528.6L1419.0 529.5L1421.0 530.2L1423.0 531.0L1425.0 531.7L1427.0 532.3L1429.0 532.9L1431.0 533.5L1433.0 534.0L1435.0 534.6L1437.0 535.0L1439.0 535.5L1441.0 536.0L1443.0 536.4L1445.0 536.8L1447.0 537.2L1449.0 537.5L1451.0 537.9L1453.0 538.2L1455.0 538.5L1457.0 538.8L1459.0 539.0L1461.0 539.3L1463.0 539.5L1465.0 539.7L1467.0 540.0L1469.0 540.1L1471.0 540.3L1473.0 540.5L1475.0 540.7L1477.0 540.8L1479.0 540.9L1481.0 541.1L1483.0 541.2L1485.0 541.3L1487.0 541.4L1489.0 541.5L1491.0 541.6L1493.0 541.7L1495.0 541.8L1497.0 541.9L1499.0 541.9L1501.0 542.0L1503.0 542.1L1505.0 542.2L1507.0 542.2L1509.0 542.3L1511.0 542.4L1513.0 542.5L1515.0 542.5" stroke="#22ee22"/>
<path d="M893.0 528.5L895.0 528.5L897.0 528.6L899.0 528.6L901.0 528.7L903.0 528.7L905.0 528.8L907.0 528.9L909.0 529.0L911.0 529.1L913.0 529.2L915.0 529.3L917.0 529.4L919.0 529.5L921.0 529.5L923.0 529.6L925.0 529.7L927.0 529.7L929.0 529.7L931.0 529.7L933.0 529.7L935.0 529.7L937.0 529.6L939.0 529.5L941.0 529.4L943.0 529.3L945.0 529.1L947.0 528.9L949.0 528.6L951.0 528.3L953.0 528.0L955.0 527.6L957.0 527.2L959.0 526.7L961.0 526.2L963.0 525.6L965.0 525.0L967.0 524.3L969.0 523.5L971.0 522.7L973.0 521.7L975.0 520.7L977.0 519.6L979.0 518.4L981.0 517.1L983.0 515.7L985.0 514.1L987.0 512.5L989.0 510.8L991.0 508.9L993.0 507.0L995.0 504.9L997.0 502.8L999.0 500.6L1001.0 498.3L1003.0 495.9L1005.0 493.5L1007.0 491.1L1009.0 488.6L1011.0 486.1L1013.0 483.6L1015.0 481.0L1017.0 478.4L1019.0 475.8L1021.0 473.1L1023.0 470.4L1025.0 467.7L1027.0 464.9L1029.0 462.1L1031.0 459.2L1033.0 456.2L1035.0 453.2L1037.0 450.0L1039.0 446.8L1041.0 443.4L1043.0 439.9L1045.0 436.3L1047.0 432.5L1049.0 428.6L1051.0 424.6L1053.0 420.3L1055.0 416.0L1057.0 411.6L1059.0 407.1L1061.0 402.5L1063.0 397.8L1065.0 393.1L1067.0 388.3L1069.0 383.4L1071.0 378.4L1073.0 373.4L1075.0 368.3L1077.0 363.1L1079.0 357.9L1081.0 352.6L1083.0 347.2L1085.0 341.9L1087.0 336.5L1089.0 331.0L1091.0 325.5L1093.0 320.1L1095.0 314.6L1097.0 309.1L1099.0 303.6L1101.0 298.1L1103.0 292.6L1105.0 287.1L1107.0 281.7L1109.0 276.3L1111.0 271.0L1113.0 265.6L1115.0 260.4L1117.0 255.2L1119.0 250.0L1121.0 244.9L1123.0 239.9L1125.0 234.8L1127.0 229.8L1129.0 224.7L1131.0 219.8L1133.0 214.9L1135.0 210.0L1137.0 205.2L1139.0 200.5L1141.0 195.8L1143.0 191.2L1145.0 186.5L1147.0 181.8L1149.0 177.1L1151.0 172.2L1153.0 167.4L1155.0 162.5L1157.0 157.8L1159.0 152.9L1161.0 147.9L1163.0 142.8L1165.0 137.7L1167.0 132.9L1169.0 128.2L1171.0 123.7L1173.0 119.4L1175.0 115.5L1177.0 111.9L1179.0 108.7L1181.0 105.8L1183.0 103.2L1185.0 101.0L1187.0 99.0L1189.0 97.2L1191.0 95.4L1193.0 93.7L1195.0 91.9L1197.0 90.0L1199.0 88.3L1201.0 86.9L1203.0 86.1L1205.0 85.8L1207.0 85.6L1209.0 85.6L1211.0 85.6L1213.0 85.7L1215.0 85.9L1217.0 86.2L1219.0 86.5L1221.0 86.8L1223.0 87.1L1225.0 87.5L1227.0 88.2L1229.0 89.5L1231.0 91.3L1233.0 93.4L1235.0 95.6L1237.0 97.9L1239.0 100.2L1241.0 102.8L1243.0 105.6L1245.0 108.7L1247.0 112.0L1249.0 115.6L1251.0 119.5L1253.0 123.5L1255.0 127.9L1257.0 132.5L1259.0 137.4L1261.0 142.4L1263.0 147.6L1265.0 152.9L1267.0 158.3L1269.0 163.9L1271.0 169.8L1273.0 176.0L1275.0 182.7L1277.0 189.8L1279.0 197.3L1281.0 205.1L1283.0 213.1L1285.0 221.2L1287.0 229.1L1289.0 236.8L1291.0 244.4L1293.0 251.8L1295.0 259.2L1297.0 266.6L1299.0 274.0L1301.0 281.6L1303.0 289.3L1305.0 297.2L1307.0 305.2L1309.0 313.2L1311.0 321.3L1313.0 329.2L1315.0 337.0L1317.0 344.8L1319.0 352.4L1321.0 359.8L1323.0 367.2L1325.0 374.4L1327.0 381.6L1329.0 388.6L1331.0 395.5L1333.0 402.3L1335.0 408.9L1337.0 415.2L1339.0 421.4L1341.0 427.3L1343.0 433.0L1345.0 438.5L1347.0 443.7L1349.0 448.6L1351.0 453.4L1353.0 458.0L1355.0 462.3L1357.0 466.4L1359.0 470.4L1361.0 474.1L1363.0 477.7L1365.0 481.1L1367.0 484.4L1369.0 487.5L1371.0 490.4L1373.0 493.2L1375.0 495.9L1377.0 498.4L1379.0 500.8L1381.0 503.1L1383.0 505.3L1385.0 507.4L1387.0 509.3L1389.0 511.2L1391.0 513.0L1393.0 514.7L1395.0 516.3L1397.0 517.9L1399.0 519.3L1401.0 520.7L1403.0 522.0L1405.0 523.2L1407.0 524.4L1409.0 525.5L1411.0 526.5L1413.0 527.5L1415.0 528.4L1417.0 529.3L1419.0 530.1L1421.0 530.9L1423.0 531.6L1425.0 532.3L1427.0 532.9L1429.0 533.5L1431.0 534.1L1433.0 534.6L1435.0 535.1L1437.0 535.6L1439.0 536.0L1441.0 536.4L1443.0 536.8L1445.0 537.2L1447.0 537.6L1449.0 537.9L1451.0 538.2L1453.0 538.5L1455.0 538.8L1457.0 539.1L1459.0 539.3L1461.0 539.5L1463.0 539.7L1465.0 539.9L1467.0 540.1L1469.0 540.3L1471.0 540.4L1473.0 540.6L1475.0 540.7L1477.0 540.9L1479.0 541.0L1481.0 541.1L1483.0 541.2L1485.0 541.3L1487.0 541.4L1489.0 541.5L1491.0 541.6L1493.0 541.7L1495.0 541.8L1497.0 541.8L1499.0 541.9L1501.0 542.0L1503.0 542.1L1505.0 542.2L1507.0 542.3L1509.0 542.4L1511.0 542.5L1513.0 542.6L1515.0 542.7" stroke="#2222ff"/>
<path d="M893.0 528.8L895.0 528.8L897.0 528.9L899.0 529.0L901.0 529.1L903.0 529.2L905.0 529.3L907.0 529.4L909.0 529.5L911.0 529.6L913.0 529.7L915.0 529.8L917.0 529.9L919.0 529.9L921.0 530.0L923.0 530.0L925.0 530.1L927.0 530.1L929.0 530.1L931.0 530.1L933.0 530.0L935.0 530.0L937.0 529.9L939.0 529.8L941.0 529.6L943.0 529.5L945.0 529.3L947.0 529.1L949.0 528.8L951.0 528.5L953.0 528.2L955.0 527.8L957.0 527.4L959.0 527.0L961.0 526.5L963.0 525.9L965.0 525.3L967.0 524.7L969.0 524.0L971.0 523.2L973.0 522.3L975.0 521.4L977.0 520.3L979.0 519.2L981.0 517.9L983.0 516.6L985.0 515.1L987.0 513.5L989.0 511.8L991.0 510.0L993.0 508.1L995.0 506.0L997.0 503.9L999.0 501.6L1001.0 499.3L1003.0 497.0L1005.0 494.5L1007.0 492.1L1009.0 489.6L1011.0 487.1L1013.0 484.6L1015.0 482.0L1017.0 479.5L1019.0 476.9L1021.0 474.2L1023.0 471.6L1025.0 468.9L1027.0 466.1L1029.0 463.3L1031.0 460.5L1033.0 457.5L1035.0 454.5L1037.0 451.5L1039.0 448.3L1041.0 445.0L1043.0 441.6L1045.0 438.1L1047.0 434.4L1049.0 430.7L1051.0 426.8L1053.0 422.7L1055.0 418.6L1057.0 414.3L1059.0 410.0L1061.0 405.6L1063.0 401.1L1065.0 396.5L1067.0 391.8L1069.0 387.1L1071.0 382.3L1073.0 377.3L1075.0 372.3L1077.0 367.3L1079.0 362.1L1081.0 356.9L1083.0 351.7L1085.0 346.4L1087.0 341.0L1089.0 335.7L1091.0 330.3L1093.0 324.9L1095.0 319.5L1097.0 314.0L1099.0 308.6L1101.0 303.2L1103.0 297.8L1105.0 292.5L1107.0 287.2L1109.0 281.9L1111.0 276.7L1113.0 271.6L1115.0 266.5L1117.0 261.5L1119.0 256.5L1121.0 251.6L1123.0 246.8L1125.0 241.9L1127.0 237.1L1129.0 232.3L1131.0 227.6L1133.0 222.9L1135.0 218.2L1137.0 213.6L1139.0 209.0L1141.0 204.5L1143.0 200.0L1145.0 195.4L1147.0 190.9L1149.0 186.3L1151.0 181.6L1153.0 177.0L1155.0 172.4L1157.0 167.8L1159.0 163.1L1161.0 158.1L1163.0 152.9L1165.0 147.9L1167.0 143.0L1169.0 138.3L1171.0 133.9L1173.0 129.7L1175.0 125.8L1177.0 122.4L1179.0 119.3L1181.0 116.5L1183.0 114.1L1185.0 111.9L1187.0 109.9L1189.0 108.2L1191.0 106.5L1193.0 104.8L1195.0 103.1L1197.0 101.3L1199.0 99.7L1201.0 98.4L1203.0 97.6L1205.0 97.2L1207.0 97.1L1209.0 97.0L1211.0 97.1L1213.0 97.2L1215.0 97.4L1217.0 97.7L1219.0 98.0L1221.0 98.3L1223.0 98.7L1225.0 99.1L1227.0 99.9L1229.0 101.1L1231.0 102.9L1233.0 105.0L1235.0 107.1L1237.0 109.4L1239.0 111.7L1241.0 114.2L1243.0 117.0L1245.0 120.0L1247.0 123.3L1249.0 126.8L1251.0 130.6L1253.0 134.6L1255.0 138.8L1257.0 143.4L1259.0 148.2L1261.0 153.2L1263.0 158.3L1265.0 163.4L1267.0 168.6L1269.0 174.1L1271.0 179.8L1273.0 185.9L1275.0 192.4L1277.0 199.4L1279.0 206.6L1281.0 214.2L1283.0 222.0L1285.0 229.9L1287.0 237.7L1289.0 245.3L1291.0 252.9L1293.0 260.3L1295.0 267.6L1297.0 275.0L1299.0 282.4L1301.0 290.0L1303.0 297.6L1305.0 305.4L1307.0 313.2L1309.0 321.0L1311.0 328.7L1313.0 336.3L1315.0 343.9L1317.0 351.3L1319.0 358.5L1321.0 365.7L1323.0 372.8L1325.0 379.7L1327.0 386.6L1329.0 393.3L1331.0 400.0L1333.0 406.6L1335.0 413.0L1337.0 419.2L1339.0 425.2L1341.0 431.0L1343.0 436.5L1345.0 441.8L1347.0 446.9L1349.0 451.8L1351.0 456.4L1353.0 460.8L1355.0 465.0L1357.0 469.0L1359.0 472.9L1361.0 476.5L1363.0 480.0L1365.0 483.3L1367.0 486.5L1369.0 489.4L1371.0 492.3L1373.0 495.0L1375.0 497.6L1377.0 500.0L1379.0 502.3L1381.0 504.5L1383.0 506.6L1385.0 508.6L1387.0 510.6L1389.0 512.4L1391.0 514.1L1393.0 515.8L1395.0 517.3L1397.0 518.8L1399.0 520.2L1401.0 521.6L1403.0 522.8L1405.0 524.1L1407.0 525.2L1409.0 526.3L1411.0 527.3L1413.0 528.2L1415.0 529.1L1417.0 530.0L1419.0 530.8L1421.0 531.5L1423.0 532.2L1425.0 532.9L1427.0 533.5L1429.0 534.1L1431.0 534.6L1433.0 535.2L1435.0 535.6L1437.0 536.1L1439.0 536.5L1441.0 536.9L1443.0 537.3L1445.0 537.7L1447.0 538.0L1449.0 538.3L1451.0 538.6L1453.0 538.9L1455.0 539.1L1457.0 539.3L1459.0 539.6L1461.0 539.8L1463.0 539.9L1465.0 540.1L1467.0 540.3L1469.0 540.4L1471.0 540.6L1473.0 540.7L1475.0 540.8L1477.0 540.9L1479.0 541.0L1481.0 541.1L1483.0 541.2L1485.0 541.3L1487.0 541.4L1489.0 541.5L1491.0 541.6L1493.0 541.6L1495.0 541.7L1497.0 541.8L1499.0 541.9L1501.0 542.0L1503.0 542.1L1505.0 542.2L1507.0 542.3L1509.0 542.4L1511.0 542.6L1513.0 542.7L1515.0 542.8" stroke="#ee33ee"/>
<path d="M893.0 529.2L895.0 529.2L897.0 529.4L899.0 529.5L901.0 529.7L903.0 529.8L905.0 529.9L907.0 530.0L909.0 530.2L911.0 530.3L913.0 530.3L915.0 530.4L917.0 530.5L919.0 530.5L921.0 530.6L923.0 530.6L925.0 530.6L927.0 530.6L929.0 530.6L931.0 530.5L933.0 530.5L935.0 530.4L937.0 530.3L939.0 530.1L941.0 530.0L943.0 529.8L945.0 529.6L947.0 529.3L949.0 529.1L951.0 528.8L953.0 528.5L955.0 528.1L957.0 527.7L959.0 527.3L961.0 526.9L963.0 526.4L965.0 525.8L967.0 525.3L969.0 524.6L971.0 523.9L973.0 523.1L975.0 522.2L977.0 521.2L979.0 520.2L981.0 519.0L983.0 517.7L985.0 516.3L987.0 514.8L989.0 513.1L991.0 511.3L993.0 509.4L995.0 507.4L997.0 505.2L999.0 503.0L1001.0 500.7L1003.0 498.3L1005.0 495.9L1007.0 493.4L1009.0 490.9L1011.0 488.4L1013.0 485.9L1015.0 483.4L1017.0 480.9L1019.0 478.3L1021.0 475.7L1023.0 473.0L1025.0 470.4L1027.0 467.7L1029.0 464.9L1031.0 462.1L1033.0 459.2L1035.0 456.3L1037.0 453.3L1039.0 450.2L1041.0 447.0L1043.0 443.8L1045.0 440.4L1047.0 436.9L1049.0 433.3L1051.0 429.6L1053.0 425.8L1055.0 421.9L1057.0 417.9L1059.0 413.8L1061.0 409.6L1063.0 405.3L1065.0 400.9L1067.0 396.5L1069.0 391.9L1071.0 387.2L1073.0 382.5L1075.0 377.6L1077.0 372.7L1079.0 367.7L1081.0 362.6L1083.0 357.4L1085.0 352.2L1087.0 347.0L1089.0 341.7L1091.0 336.4L1093.0 331.1L1095.0 325.8L1097.0 320.5L1099.0 315.2L1101.0 309.9L1103.0 304.6L1105.0 299.4L1107.0 294.3L1109.0 289.2L1111.0 284.2L1113.0 279.2L1115.0 274.4L1117.0 269.6L1119.0 264.9L1121.0 260.3L1123.0 255.7L1125.0 251.2L1127.0 246.6L1129.0 242.1L1131.0 237.7L1133.0 233.2L1135.0 228.8L1137.0 224.4L1139.0 220.1L1141.0 215.7L1143.0 211.3L1145.0 207.0L1147.0 202.6L1149.0 198.2L1151.0 193.8L1153.0 189.5L1155.0 185.2L1157.0 180.9L1159.0 176.3L1161.0 171.3L1163.0 166.1L1165.0 161.0L1167.0 156.1L1169.0 151.5L1171.0 147.0L1173.0 142.9L1175.0 139.2L1177.0 135.9L1179.0 133.0L1181.0 130.4L1183.0 128.1L1185.0 126.0L1187.0 124.1L1189.0 122.4L1191.0 120.8L1193.0 119.2L1195.0 117.6L1197.0 116.0L1199.0 114.5L1201.0 113.2L1203.0 112.4L1205.0 112.0L1207.0 111.9L1209.0 111.9L1211.0 112.0L1213.0 112.1L1215.0 112.3L1217.0 112.6L1219.0 112.9L1221.0 113.2L1223.0 113.6L1225.0 114.1L1227.0 114.9L1229.0 116.2L1231.0 117.9L1233.0 119.9L1235.0 122.0L1237.0 124.2L1239.0 126.5L1241.0 129.0L1243.0 131.8L1245.0 134.7L1247.0 137.9L1249.0 141.3L1251.0 145.0L1253.0 148.9L1255.0 153.0L1257.0 157.5L1259.0 162.2L1261.0 167.1L1263.0 172.1L1265.0 177.0L1267.0 182.1L1269.0 187.3L1271.0 192.8L1273.0 198.7L1275.0 205.0L1277.0 211.7L1279.0 218.8L1281.0 226.0L1283.0 233.5L1285.0 241.1L1287.0 248.8L1289.0 256.3L1291.0 263.8L1293.0 271.2L1295.0 278.6L1297.0 285.9L1299.0 293.4L1301.0 300.9L1303.0 308.4L1305.0 315.9L1307.0 323.5L1309.0 330.9L1311.0 338.3L1313.0 345.6L1315.0 352.7L1317.0 359.7L1319.0 366.6L1321.0 373.3L1323.0 380.0L1325.0 386.5L1327.0 393.0L1329.0 399.5L1331.0 405.9L1333.0 412.2L1335.0 418.3L1337.0 424.3L1339.0 430.1L1341.0 435.7L1343.0 441.1L1345.0 446.2L1347.0 451.1L1349.0 455.8L1351.0 460.2L1353.0 464.5L1355.0 468.6L1357.0 472.4L1359.0 476.1L1361.0 479.6L1363.0 482.9L1365.0 486.1L1367.0 489.1L1369.0 492.0L1371.0 494.7L1373.0 497.3L1375.0 499.7L1377.0 502.1L1379.0 504.3L1381.0 506.4L1383.0 508.4L1385.0 510.3L1387.0 512.1L1389.0 513.9L1391.0 515.5L1393.0 517.1L1395.0 518.6L1397.0 520.0L1399.0 521.4L1401.0 522.7L1403.0 523.9L1405.0 525.1L1407.0 526.2L1409.0 527.2L1411.0 528.2L1413.0 529.2L1415.0 530.0L1417.0 530.9L1419.0 531.6L1421.0 532.4L1423.0 533.1L1425.0 533.7L1427.0 534.3L1429.0 534.9L1431.0 535.4L1433.0 535.9L1435.0 536.4L1437.0 536.8L1439.0 537.2L1441.0 537.6L1443.0 537.9L1445.0 538.2L1447.0 538.5L1449.0 538.8L1451.0 539.1L1453.0 539.3L1455.0 539.5L1457.0 539.7L1459.0 539.9L1461.0 540.1L1463.0 540.2L1465.0 540.4L1467.0 540.5L1469.0 540.6L1471.0 540.7L1473.0 540.8L1475.0 540.9L1477.0 541.0L1479.0 541.1L1481.0 541.1L1483.0 541.2L1485.0 541.3L1487.0 541.4L1489.0 541.4L1491.0 541.5L1493.0 541.6L1495.0 541.7L1497.0 541.8L1499.0 541.9L1501.0 542.0L1503.0 542.1L1505.0 542.2L1507.0 542.4L1509.0 542.5L1511.0 542.7L1513.0 542.9L1515.0 543.0" stroke="#80801a"/>
<path d="M893.0 529.5L895.0 529.7L897.0 529.9L899.0 530.1L901.0 530.2L903.0 530.4L905.0 530.6L907.0 530.7L909.0 530.8L911.0 530.9L913.0 531.0L915.0 531.1L917.0 531.1L919.0 531.2L921.0 531.2L923.0 531.2L925.0 531.2L927.0 531.1L929.0 531.1L931.0 531.0L933.0 530.9L935.0 530.8L937.0 530.6L939.0 530.5L941.0 530.3L943.0 530.1L945.0 529.9L947.0 529.6L949.0 529.4L951.0 529.1L953.0 528.7L955.0 528.4L957.0 528.0L959.0 527.7L961.0 527.3L963.0 526.8L965.0 526.3L967.0 525.8L969.0 525.2L971.0 524.6L973.0 523.9L975.0 523.1L977.0 522.2L979.0 521.2L981.0 520.1L983.0 518.9L985.0 517.5L987.0 516.1L989.0 514.5L991.0 512.7L993.0 510.8L995.0 508.8L997.0 506.6L999.0 504.4L1001.0 502.0L1003.0 499.6L1005.0 497.2L1007.0 494.7L1009.0 492.3L1011.0 489.8L1013.0 487.3L1015.0 484.8L1017.0 482.3L1019.0 479.7L1021.0 477.1L1023.0 474.5L1025.0 471.9L1027.0 469.2L1029.0 466.5L1031.0 463.8L1033.0 461.0L1035.0 458.1L1037.0 455.2L1039.0 452.2L1041.0 449.1L1043.0 445.9L1045.0 442.7L1047.0 439.4L1049.0 436.0L1051.0 432.5L1053.0 428.9L1055.0 425.2L1057.0 421.5L1059.0 417.6L1061.0 413.6L1063.0 409.6L1065.0 405.4L1067.0 401.1L1069.0 396.8L1071.0 392.3L1073.0 387.7L1075.0 383.0L1077.0 378.2L1079.0 373.3L1081.0 368.3L1083.0 363.3L1085.0 358.2L1087.0 353.0L1089.0 347.8L1091.0 342.6L1093.0 337.4L1095.0 332.2L1097.0 327.0L1099.0 321.8L1101.0 316.6L1103.0 311.5L1105.0 306.4L1107.0 301.5L1109.0 296.5L1111.0 291.7L1113.0 287.0L1115.0 282.4L1117.0 277.8L1119.0 273.4L1121.0 269.0L1123.0 264.7L1125.0 260.5L1127.0 256.3L1129.0 252.1L1131.0 247.9L1133.0 243.7L1135.0 239.5L1137.0 235.4L1139.0 231.2L1141.0 227.1L1143.0 222.9L1145.0 218.7L1147.0 214.5L1149.0 210.3L1151.0 206.1L1153.0 202.1L1155.0 198.1L1157.0 194.1L1159.0 189.6L1161.0 184.6L1163.0 179.4L1165.0 174.2L1167.0 169.3L1169.0 164.7L1171.0 160.4L1173.0 156.4L1175.0 152.8L1177.0 149.6L1179.0 146.9L1181.0 144.5L1183.0 142.3L1185.0 140.3L1187.0 138.5L1189.0 136.8L1191.0 135.3L1193.0 133.8L1195.0 132.3L1197.0 130.9L1199.0 129.4L1201.0 128.2L1203.0 127.4L1205.0 127.0L1207.0 126.9L1209.0 126.9L1211.0 127.0L1213.0 127.2L1215.0 127.4L1217.0 127.6L1219.0 127.9L1221.0 128.3L1223.0 128.7L1225.0 129.3L1227.0 130.1L1229.0 131.4L1231.0 133.0L1233.0 135.0L1235.0 137.1L1237.0 139.3L1239.0 141.6L1241.0 144.0L1243.0 146.7L1245.0 149.5L1247.0 152.6L1249.0 155.9L1251.0 159.5L1253.0 163.3L1255.0 167.4L1257.0 171.7L1259.0 176.4L1261.0 181.2L1263.0 186.0L1265.0 190.8L1267.0 195.7L1269.0 200.7L1271.0 206.0L1273.0 211.7L1275.0 217.8L1277.0 224.2L1279.0 231.0L1281.0 238.0L1283.0 245.2L1285.0 252.5L1287.0 260.0L1289.0 267.4L1291.0 274.9L1293.0 282.2L1295.0 289.6L1297.0 297.0L1299.0 304.4L1301.0 311.8L1303.0 319.3L1305.0 326.6L1307.0 333.9L1309.0 341.0L1311.0 348.1L1313.0 354.9L1315.0 361.6L1317.0 368.2L1319.0 374.6L1321.0 381.0L1323.0 387.2L1325.0 393.4L1327.0 399.6L1329.0 405.7L1331.0 411.8L1333.0 417.8L1335.0 423.7L1337.0 429.5L1339.0 435.1L1341.0 440.5L1343.0 445.7L1345.0 450.6L1347.0 455.4L1349.0 459.9L1351.0 464.1L1353.0 468.2L1355.0 472.1L1357.0 475.8L1359.0 479.4L1361.0 482.7L1363.0 485.9L1365.0 488.9L1367.0 491.8L1369.0 494.5L1371.0 497.1L1373.0 499.6L1375.0 501.9L1377.0 504.1L1379.0 506.2L1381.0 508.2L1383.0 510.1L1385.0 512.0L1387.0 513.7L1389.0 515.3L1391.0 516.9L1393.0 518.4L1395.0 519.9L1397.0 521.3L1399.0 522.6L1401.0 523.8L1403.0 525.0L1405.0 526.2L1407.0 527.2L1409.0 528.2L1411.0 529.2L1413.0 530.1L1415.0 531.0L1417.0 531.8L1419.0 532.5L1421.0 533.2L1423.0 533.9L1425.0 534.5L1427.0 535.1L1429.0 535.7L1431.0 536.2L1433.0 536.6L1435.0 537.1L1437.0 537.5L1439.0 537.9L1441.0 538.2L1443.0 538.5L1445.0 538.8L1447.0 539.1L1449.0 539.3L1451.0 539.6L1453.0 539.8L1455.0 539.9L1457.0 540.1L1459.0 540.3L1461.0 540.4L1463.0 540.5L1465.0 540.6L1467.0 540.7L1469.0 540.8L1471.0 540.9L1473.0 540.9L1475.0 541.0L1477.0 541.1L1479.0 541.1L1481.0 541.2L1483.0 541.2L1485.0 541.3L1487.0 541.4L1489.0 541.4L1491.0 541.5L1493.0 541.6L1495.0 541.7L1497.0 541.8L1499.0 541.9L1501.0 542.0L1503.0 542.1L1505.0 542.3L1507.0 542.4L1509.0 542.6L1511.0 542.8L1513.0 543.0L1515.0 543.2" stroke="#1a1a80"/>
<path d="M893.0 529.7L895.0 529.9L897.0 530.2L899.0 530.4L901.0 530.6L903.0 530.8L905.0 530.9L907.0 531.1L909.0 531.2L911.0 531.3L913.0 531.4L915.0 531.5L917.0 531.5L919.0 531.5L921.0 531.5L923.0 531.5L925.0 531.5L927.0 531.4L929.0 531.4L931.0 531.3L933.0 531.1L935.0 531.0L937.0 530.9L939.0 530.7L941.0 530.5L943.0 530.3L945.0 530.0L947.0 529.8L949.0 529.5L951.0 529.2L953.0 528.9L955.0 528.6L957.0 528.2L959.0 527.9L961.0 527.5L963.0 527.1L965.0 526.6L967.0 526.1L969.0 525.6L971.0 525.0L973.0 524.3L975.0 523.6L977.0 522.7L979.0 521.8L981.0 520.8L983.0 519.6L985.0 518.3L987.0 516.9L989.0 515.3L991.0 513.6L993.0 511.7L995.0 509.6L997.0 507.5L999.0 505.2L1001.0 502.8L1003.0 500.4L1005.0 498.0L1007.0 495.5L1009.0 493.1L1011.0 490.6L1013.0 488.1L1015.0 485.6L1017.0 483.1L1019.0 480.6L1021.0 478.0L1023.0 475.5L1025.0 472.8L1027.0 470.2L1029.0 467.5L1031.0 464.8L1033.0 462.0L1035.0 459.2L1037.0 456.3L1039.0 453.3L1041.0 450.3L1043.0 447.3L1045.0 444.1L1047.0 440.9L1049.0 437.6L1051.0 434.3L1053.0 430.8L1055.0 427.3L1057.0 423.6L1059.0 419.9L1061.0 416.1L1063.0 412.2L1065.0 408.1L1067.0 404.0L1069.0 399.7L1071.0 395.3L1073.0 390.9L1075.0 386.2L1077.0 381.5L1079.0 376.7L1081.0 371.8L1083.0 366.8L1085.0 361.7L1087.0 356.7L1089.0 351.5L1091.0 346.4L1093.0 341.2L1095.0 336.1L1097.0 330.9L1099.0 325.8L1101.0 320.7L1103.0 315.7L1105.0 310.7L1107.0 305.8L1109.0 301.0L1111.0 296.3L1113.0 291.7L1115.0 287.2L1117.0 282.8L1119.0 278.6L1121.0 274.4L1123.0 270.2L1125.0 266.2L1127.0 262.1L1129.0 258.1L1131.0 254.1L1133.0 250.1L1135.0 246.1L1137.0 242.0L1139.0 238.0L1141.0 234.0L1143.0 229.9L1145.0 225.8L1147.0 221.6L1149.0 217.6L1151.0 213.6L1153.0 209.7L1155.0 206.0L1157.0 202.1L1159.0 197.7L1161.0 192.8L1163.0 187.5L1165.0 182.2L1167.0 177.3L1169.0 172.8L1171.0 168.5L1173.0 164.5L1175.0 161.0L1177.0 158.0L1179.0 155.3L1181.0 153.0L1183.0 150.9L1185.0 149.0L1187.0 147.2L1189.0 145.5L1191.0 144.0L1193.0 142.6L1195.0 141.2L1197.0 139.9L1199.0 138.5L1201.0 137.3L1203.0 136.5L1205.0 136.1L1207.0 136.0L1209.0 136.0L1211.0 136.2L1213.0 136.3L1215.0 136.5L1217.0 136.7L1219.0 137.0L1221.0 137.4L1223.0 137.9L1225.0 138.5L1227.0 139.3L1229.0 140.6L1231.0 142.2L1233.0 144.2L1235.0 146.2L1237.0 148.4L1239.0 150.7L1241.0 153.1L1243.0 155.7L1245.0 158.5L1247.0 161.6L1249.0 164.8L1251.0 168.3L1253.0 172.1L1255.0 176.1L1257.0 180.4L1259.0 185.0L1261.0 189.7L1263.0 194.5L1265.0 199.2L1267.0 203.9L1269.0 208.8L1271.0 214.0L1273.0 219.5L1275.0 225.5L1277.0 231.8L1279.0 238.5L1281.0 245.3L1283.0 252.3L1285.0 259.4L1287.0 266.8L1289.0 274.2L1291.0 281.6L1293.0 288.9L1295.0 296.3L1297.0 303.7L1299.0 311.1L1301.0 318.5L1303.0 325.9L1305.0 333.1L1307.0 340.2L1309.0 347.2L1311.0 354.0L1313.0 360.6L1315.0 367.1L1317.0 373.4L1319.0 379.6L1321.0 385.6L1323.0 391.6L1325.0 397.6L1327.0 403.5L1329.0 409.4L1331.0 415.3L1333.0 421.2L1335.0 427.0L1337.0 432.7L1339.0 438.1L1341.0 443.4L1343.0 448.5L1345.0 453.3L1347.0 457.9L1349.0 462.3L1351.0 466.5L1353.0 470.5L1355.0 474.3L1357.0 477.9L1359.0 481.3L1361.0 484.6L1363.0 487.7L1365.0 490.6L1367.0 493.4L1369.0 496.1L1371.0 498.6L1373.0 501.0L1375.0 503.2L1377.0 505.4L1379.0 507.4L1381.0 509.4L1383.0 511.2L1385.0 513.0L1387.0 514.6L1389.0 516.3L1391.0 517.8L1393.0 519.3L1395.0 520.7L1397.0 522.0L1399.0 523.3L1401.0 524.5L1403.0 525.7L1405.0 526.8L1407.0 527.8L1409.0 528.8L1411.0 529.8L1413.0 530.7L1415.0 531.5L1417.0 532.3L1419.0 533.0L1421.0 533.8L1423.0 534.4L1425.0 535.0L1427.0 535.6L1429.0 536.1L1431.0 536.6L1433.0 537.1L1435.0 537.5L1437.0 537.9L1439.0 538.3L1441.0 538.6L1443.0 538.9L1445.0 539.2L1447.0 539.4L1449.0 539.7L1451.0 539.9L1453.0 540.0L1455.0 540.2L1457.0 540.3L1459.0 540.5L1461.0 540.6L1463.0 540.7L1465.0 540.8L1467.0 540.8L1469.0 540.9L1471.0 541.0L1473.0 541.0L1475.0 541.1L1477.0 541.1L1479.0 541.2L1481.0 541.2L1483.0 541.2L1485.0 541.3L1487.0 541.3L1489.0 541.4L1491.0 541.5L1493.0 541.5L1495.0 541.6L1497.0 541.7L1499.0 541.8L1501.0 542.0L1503.0 542.1L1505.0 542.3L1507.0 542.5L1509.0 542.7L1511.0 542.9L1513.0 543.1L1515.0 543.4" stroke="#ff2080"/>
</g>
<text transform="translate(892.35,577.40) scale(1.0000,1.0200)" font-family='"Liberation Sans", Arial, Helvetica, sans-serif' font-size="21.2" font-weight="bold" text-anchor="middle" fill="#111111" stroke="#111111" stroke-width="0.3">300</text>
<text transform="translate(970.60,577.40) scale(1.0000,1.0200)" font-family='"Liberation Sans", Arial, Helvetica, sans-serif' font-size="21.2" font-weight="bold" text-anchor="middle" fill="#111111" stroke="#111111" stroke-width="0.3">310</text>
<text transform="translate(1048.25,577.40) scale(1.0000,1.0200)" font-family='"Liberation Sans", Arial, Helvetica, sans-serif' font-size="21.2" font-weight="bold" text-anchor="middle" fill="#111111" stroke="#111111" stroke-width="0.3">320</text>
<text transform="translate(1125.90,577.40) scale(1.0000,1.0200)" font-family='"Liberation Sans", Arial, Helvetica, sans-serif' font-size="21.2" font-weight="bold" text-anchor="middle" fill="#111111" stroke="#111111" stroke-width="0.3">330</text>
<text transform="translate(1203.55,577.40) scale(1.0000,1.0200)" font-family='"Liberation Sans", Arial, Helvetica, sans-serif' font-size="21.2" font-weight="bold" text-anchor="middle" fill="#111111" stroke="#111111" stroke-width="0.3">340</text>
<text transform="translate(1281.20,577.40) scale(1.0000,1.0200)" font-family='"Liberation Sans", Arial, Helvetica, sans-serif' font-size="21.2" font-weight="bold" text-anchor="middle" fill="#111111" stroke="#111111" stroke-width="0.3">350</text>
<text transform="translate(1358.85,577.40) scale(1.0000,1.0200)" font-family='"Liberation Sans", Arial, Helvetica, sans-serif' font-size="21.2" font-weight="bold" text-anchor="middle" fill="#111111" stroke="#111111" stroke-width="0.3">360</text>
<text transform="translate(1436.50,577.40) scale(1.0000,1.0200)" font-family='"Liberation Sans", Arial, Helvetica, sans-serif' font-size="21.2" font-weight="bold" text-anchor="middle" fill="#111111" stroke="#111111" stroke-width="0.3">370</text>
<text transform="translate(1514.15,577.40) scale(1.0000,1.0200)" font-family='"Liberation Sans", Arial, Helvetica, sans-serif' font-size="21.2" font-weight="bold" text-anchor="middle" fill="#111111" stroke="#111111" stroke-width="0.3">380</text>
<text transform="translate(876.00,550.15) scale(1.0000,1.0200)" font-family='"Liberation Sans", Arial, Helvetica, sans-serif' font-size="21.2" font-weight="bold" text-anchor="end" fill="#111111" stroke="#111111" stroke-width="0.3">0</text>
<text transform="translate(876.00,495.93) scale(1.0000,1.0200)" font-family='"Liberation Sans", Arial, Helvetica, sans-serif' font-size="21.2" font-weight="bold" text-anchor="end" fill="#111111" stroke="#111111" stroke-width="0.3">100</text>
<text transform="translate(876.00,441.71) scale(1.0000,1.0200)" font-family='"Liberation Sans", Arial, Helvetica, sans-serif' font-size="21.2" font-weight="bold" text-anchor="end" fill="#111111" stroke="#111111" stroke-width="0.3">200</text>
<text transform="translate(876.00,387.49) scale(1.0000,1.0200)" font-family='"Liberation Sans", Arial, Helvetica, sans-serif' font-size="21.2" font-weight="bold" text-anchor="end" fill="#111111" stroke="#111111" stroke-width="0.3">300</text>
<text transform="translate(876.00,333.27) scale(1.0000,1.0200)" font-family='"Liberation Sans", Arial, Helvetica, sans-serif' font-size="21.2" font-weight="bold" text-anchor="end" fill="#111111" stroke="#111111" stroke-width="0.3">400</text>
<text transform="translate(876.00,279.05) scale(1.0000,1.0200)" font-family='"Liberation Sans", Arial, Helvetica, sans-serif' font-size="21.2" font-weight="bold" text-anchor="end" fill="#111111" stroke="#111111" stroke-width="0.3">500</text>
<text transform="translate(876.00,224.83) scale(1.0000,1.0200)" font-family='"Liberation Sans", Arial, Helvetica, sans-serif' font-size="21.2" font-weight="bold" text-anchor="end" fill="#111111" stroke="#111111" stroke-width="0.3">600</text>
<text transform="translate(876.00,170.61) scale(1.0000,1.0200)" font-family='"Liberation Sans", Arial, Helvetica, sans-serif' font-size="21.2" font-weight="bold" text-anchor="end" fill="#111111" stroke="#111111" stroke-width="0.3">700</text>
<text transform="translate(876.00,116.39) scale(1.0000,1.0200)" font-family='"Liberation Sans", Arial, Helvetica, sans-serif' font-size="21.2" font-weight="bold" text-anchor="end" fill="#111111" stroke="#111111" stroke-width="0.3">800</text>
<text transform="translate(876.00,62.17) scale(1.0000,1.0200)" font-family='"Liberation Sans", Arial, Helvetica, sans-serif' font-size="21.2" font-weight="bold" text-anchor="end" fill="#111111" stroke="#111111" stroke-width="0.3">900</text>
<text transform="translate(1204.10,621.60) scale(1.0000,1.0200)" font-family='"Liberation Sans", Arial, Helvetica, sans-serif' font-size="26.1" font-weight="bold" text-anchor="middle" fill="#111111" stroke="#111111" stroke-width="0.3">Wavelength (nm)</text>
<text transform="translate(829.90,285.20) rotate(-90) scale(1.0900,1.0000)" font-family='"Liberation Sans", Arial, Helvetica, sans-serif' font-size="24.5" font-weight="bold" text-anchor="middle" fill="#111111" stroke="#111111" stroke-width="0.3">Flouresence intensity</text>
<rect x="1340.3" y="39.3" width="164.20" height="326.50" fill="#ffffff" stroke="#454545" stroke-width="1.5"/>
<text transform="translate(1358.40,66.80) scale(1.0000,1.0200)" font-family='"Liberation Sans", Arial, Helvetica, sans-serif' font-size="25.6" font-weight="bold" text-anchor="start" fill="#111111" stroke="#111111" stroke-width="0.3">QTP</text>
<line x1="1344.6" y1="94.40" x2="1402.8" y2="94.40" stroke="#111111" stroke-width="2.2"/>
<text transform="translate(1410.60,103.10) scale(1.0000,1.0200)" font-family='"Liberation Sans", Arial, Helvetica, sans-serif' font-size="25.0" font-weight="bold" text-anchor="start" fill="#111111" stroke="#111111" stroke-width="0.3">0 (<tspan font-family='"Liberation Serif", "Times New Roman", serif' font-size="25.0" letter-spacing="-0.6">µM</tspan>)</text>
<line x1="1344.6" y1="130.60" x2="1402.8" y2="130.60" stroke="#ff2a2a" stroke-width="2.2"/>
<text transform="translate(1410.60,139.30) scale(1.0000,1.0200)" font-family='"Liberation Sans", Arial, Helvetica, sans-serif' font-size="25.0" font-weight="bold" text-anchor="start" fill="#111111" stroke="#111111" stroke-width="0.3">5 (<tspan font-family='"Liberation Serif", "Times New Roman", serif' font-size="25.0" letter-spacing="-0.6">µM</tspan>)</text>
<line x1="1344.6" y1="166.80" x2="1402.8" y2="166.80" stroke="#22ee22" stroke-width="2.2"/>
<text transform="translate(1410.60,175.50) scale(1.0000,1.0200)" font-family='"Liberation Sans", Arial, Helvetica, sans-serif' font-size="25.0" font-weight="bold" text-anchor="start" fill="#111111" stroke="#111111" stroke-width="0.3">10 (<tspan font-family='"Liberation Serif", "Times New Roman", serif' font-size="25.0" letter-spacing="-0.6">µM</tspan>)</text>
<line x1="1344.6" y1="203.00" x2="1402.8" y2="203.00" stroke="#2222ff" stroke-width="2.2"/>
<text transform="translate(1410.60,211.70) scale(1.0000,1.0200)" font-family='"Liberation Sans", Arial, Helvetica, sans-serif' font-size="25.0" font-weight="bold" text-anchor="start" fill="#111111" stroke="#111111" stroke-width="0.3">15 (<tspan font-family='"Liberation Serif", "Times New Roman", serif' font-size="25.0" letter-spacing="-0.6">µM</tspan>)</text>
<line x1="1344.6" y1="239.20" x2="1402.8" y2="239.20" stroke="#ee33ee" stroke-width="2.2"/>
<text transform="translate(1410.60,247.90) scale(1.0000,1.0200)" font-family='"Liberation Sans", Arial, Helvetica, sans-serif' font-size="25.0" font-weight="bold" text-anchor="start" fill="#111111" stroke="#111111" stroke-width="0.3">20 (<tspan font-family='"Liberation Serif", "Times New Roman", serif' font-size="25.0" letter-spacing="-0.6">µM</tspan>)</text>
<line x1="1344.6" y1="275.40" x2="1402.8" y2="275.40" stroke="#80801a" stroke-width="2.2"/>
<text transform="translate(1410.60,284.10) scale(1.0000,1.0200)" font-family='"Liberation Sans", Arial, Helvetica, sans-serif' font-size="25.0" font-weight="bold" text-anchor="start" fill="#111111" stroke="#111111" stroke-width="0.3">25 (<tspan font-family='"Liberation Serif", "Times New Roman", serif' font-size="25.0" letter-spacing="-0.6">µM</tspan>)</text>
<line x1="1344.6" y1="311.60" x2="1402.8" y2="311.60" stroke="#1a1a80" stroke-width="2.2"/>
<text transform="translate(1410.60,320.30) scale(1.0000,1.0200)" font-family='"Liberation Sans", Arial, Helvetica, sans-serif' font-size="25.0" font-weight="bold" text-anchor="start" fill="#111111" stroke="#111111" stroke-width="0.3">30 <tspan font-family='"Liberation Serif", "Times New Roman", serif' font-size="25.0" letter-spacing="-0.6">µM</tspan>)</text>
<line x1="1344.6" y1="347.80" x2="1402.8" y2="347.80" stroke="#ff2080" stroke-width="2.2"/>
<text transform="translate(1410.60,356.50) scale(1.0000,1.0200)" font-family='"Liberation Sans", Arial, Helvetica, sans-serif' font-size="25.0" font-weight="bold" text-anchor="start" fill="#111111" stroke="#111111" stroke-width="0.3">35 (<tspan font-family='"Liberation Serif", "Times New Roman", serif' font-size="25.0" letter-spacing="-0.6">µM</tspan>)</text>
<text transform="translate(1190.60,708.50) scale(0.9000,1.0800)" font-family='"Liberation Sans", Arial, Helvetica, sans-serif' font-size="33.5" font-weight="normal" text-anchor="middle" fill="#1a1a1a" stroke="#1a1a1a" stroke-width="0.45">B</text>
</g>
</svg>
</body>
</html>
